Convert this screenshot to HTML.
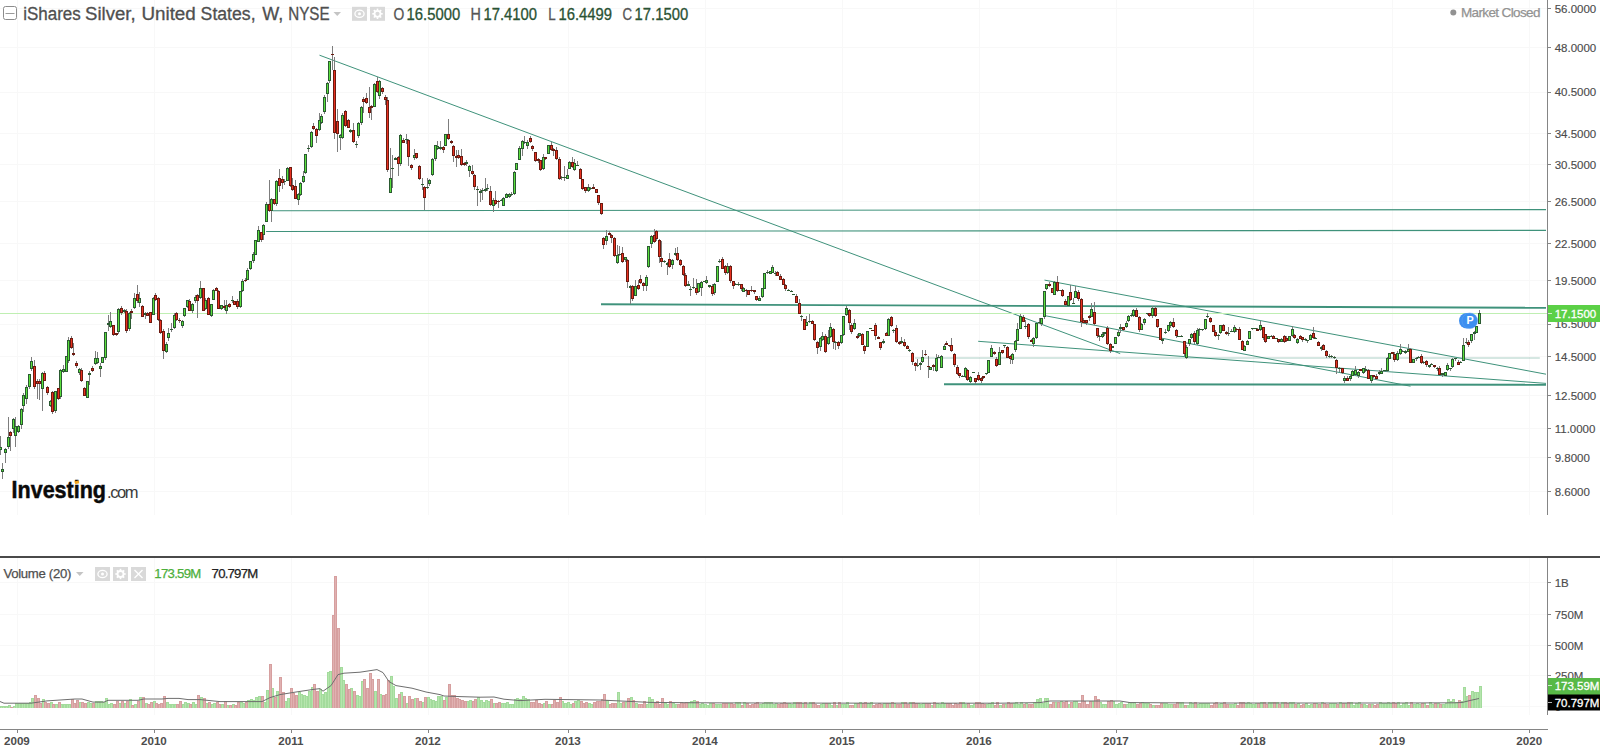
<!DOCTYPE html>
<html lang="en"><head><meta charset="utf-8"><title>iShares Silver, United States, W, NYSE</title>
<style>
html,body{margin:0;padding:0;background:#fff;width:1600px;height:749px;overflow:hidden;font-family:"Liberation Sans",sans-serif}
svg text{font-kerning:normal}
</style></head><body>
<svg width="1600" height="749" viewBox="0 0 1600 749" style="position:absolute;left:0;top:0" shape-rendering="auto">
<rect x="0" y="0" width="1600" height="749" fill="#ffffff"/>
<g stroke="#f8f8f8" stroke-width="1" shape-rendering="crispEdges">
<line x1="17.5" y1="0" x2="17.5" y2="515"/>
<line x1="17.5" y1="558" x2="17.5" y2="715"/>
<line x1="154.5" y1="0" x2="154.5" y2="515"/>
<line x1="154.5" y1="558" x2="154.5" y2="715"/>
<line x1="291.5" y1="0" x2="291.5" y2="515"/>
<line x1="291.5" y1="558" x2="291.5" y2="715"/>
<line x1="428.5" y1="0" x2="428.5" y2="515"/>
<line x1="428.5" y1="558" x2="428.5" y2="715"/>
<line x1="568.5" y1="0" x2="568.5" y2="515"/>
<line x1="568.5" y1="558" x2="568.5" y2="715"/>
<line x1="705.5" y1="0" x2="705.5" y2="515"/>
<line x1="705.5" y1="558" x2="705.5" y2="715"/>
<line x1="842.5" y1="0" x2="842.5" y2="515"/>
<line x1="842.5" y1="558" x2="842.5" y2="715"/>
<line x1="979.5" y1="0" x2="979.5" y2="515"/>
<line x1="979.5" y1="558" x2="979.5" y2="715"/>
<line x1="1116.5" y1="0" x2="1116.5" y2="515"/>
<line x1="1116.5" y1="558" x2="1116.5" y2="715"/>
<line x1="1253.5" y1="0" x2="1253.5" y2="515"/>
<line x1="1253.5" y1="558" x2="1253.5" y2="715"/>
<line x1="1392.5" y1="0" x2="1392.5" y2="515"/>
<line x1="1392.5" y1="558" x2="1392.5" y2="715"/>
<line x1="1529.5" y1="0" x2="1529.5" y2="515"/>
<line x1="1529.5" y1="558" x2="1529.5" y2="715"/>
<line x1="0" y1="8.5" x2="1547" y2="8.5"/>
<line x1="0" y1="47.5" x2="1547" y2="47.5"/>
<line x1="0" y1="92.5" x2="1547" y2="92.5"/>
<line x1="0" y1="133.5" x2="1547" y2="133.5"/>
<line x1="0" y1="164.5" x2="1547" y2="164.5"/>
<line x1="0" y1="201.5" x2="1547" y2="201.5"/>
<line x1="0" y1="243.5" x2="1547" y2="243.5"/>
<line x1="0" y1="280.5" x2="1547" y2="280.5"/>
<line x1="0" y1="324.5" x2="1547" y2="324.5"/>
<line x1="0" y1="356.5" x2="1547" y2="356.5"/>
<line x1="0" y1="395.5" x2="1547" y2="395.5"/>
<line x1="0" y1="428.5" x2="1547" y2="428.5"/>
<line x1="0" y1="457.5" x2="1547" y2="457.5"/>
<line x1="0" y1="491.5" x2="1547" y2="491.5"/>
<line x1="0" y1="582.5" x2="1547" y2="582.5"/>
<line x1="0" y1="614.5" x2="1547" y2="614.5"/>
<line x1="0" y1="645.5" x2="1547" y2="645.5"/>
<line x1="0" y1="675.5" x2="1547" y2="675.5"/>
<line x1="0" y1="706.5" x2="1547" y2="706.5"/>
</g>
<g id="vol">
<g shape-rendering="crispEdges">
<path d="M0 705.5h3V708h-3zM2 706.0h3V708h-3zM5 705.5h3V708h-3zM8 705.0h3V708h-3zM13 705.5h3V708h-3zM15 703.0h3V708h-3zM18 702.5h3V708h-3zM21 703.0h3V708h-3zM23 702.5h3V708h-3zM26 703.0h3V708h-3zM29 702.0h3V708h-3zM31 697.8h3V708h-3zM42 698.8h3V708h-3zM50 702.0h3V708h-3zM55 704.4h3V708h-3zM60 704.3h3V708h-3zM63 703.7h3V708h-3zM66 703.5h3V708h-3zM68 704.4h3V708h-3zM79 702.4h3V708h-3zM87 701.9h3V708h-3zM89 702.7h3V708h-3zM95 700.5h3V708h-3zM97 700.5h3V708h-3zM100 701.1h3V708h-3zM102 701.7h3V708h-3zM105 698.4h3V708h-3zM108 703.6h3V708h-3zM110 703.3h3V708h-3zM118 702.9h3V708h-3zM124 703.0h3V708h-3zM129 698.8h3V708h-3zM134 703.7h3V708h-3zM139 696.5h3V708h-3zM145 702.9h3V708h-3zM153 701.4h3V708h-3zM166 701.5h3V708h-3zM168 704.0h3V708h-3zM171 703.5h3V708h-3zM174 704.1h3V708h-3zM182 703.8h3V708h-3zM184 702.3h3V708h-3zM187 702.7h3V708h-3zM192 701.6h3V708h-3zM195 704.0h3V708h-3zM200 697.0h3V708h-3zM205 703.0h3V708h-3zM211 704.0h3V708h-3zM213 703.0h3V708h-3zM221 704.0h3V708h-3zM226 705.0h3V708h-3zM232 704.0h3V708h-3zM240 702.0h3V708h-3zM242 703.0h3V708h-3zM247 700.0h3V708h-3zM250 699.0h3V708h-3zM253 700.0h3V708h-3zM255 697.0h3V708h-3zM258 696.0h3V708h-3zM263 701.5h3V708h-3zM266 690.0h3V708h-3zM271 688.0h3V708h-3zM276 691.0h3V708h-3zM284 701.0h3V708h-3zM287 698.0h3V708h-3zM298 692.0h3V708h-3zM300 694.0h3V708h-3zM303 695.0h3V708h-3zM305 696.0h3V708h-3zM308 691.0h3V708h-3zM311 687.0h3V708h-3zM319 689.0h3V708h-3zM321 694.0h3V708h-3zM324 692.0h3V708h-3zM327 672.0h3V708h-3zM329 671.0h3V708h-3zM340 667.0h3V708h-3zM342 680.0h3V708h-3zM350 688.0h3V708h-3zM356 695.0h3V708h-3zM358 696.0h3V708h-3zM361 681.0h3V708h-3zM374 691.0h3V708h-3zM379 694.0h3V708h-3zM390 676.0h3V708h-3zM392 686.0h3V708h-3zM395 698.0h3V708h-3zM400 692.0h3V708h-3zM406 702.9h3V708h-3zM414 698.0h3V708h-3zM422 702.0h3V708h-3zM427 697.0h3V708h-3zM429 699.0h3V708h-3zM432 700.0h3V708h-3zM435 700.8h3V708h-3zM437 696.0h3V708h-3zM440 696.0h3V708h-3zM445 697.0h3V708h-3zM466 701.0h3V708h-3zM469 699.5h3V708h-3zM477 697.0h3V708h-3zM480 700.0h3V708h-3zM482 702.0h3V708h-3zM485 700.0h3V708h-3zM487 701.0h3V708h-3zM493 703.0h3V708h-3zM501 703.0h3V708h-3zM503 703.0h3V708h-3zM506 702.0h3V708h-3zM509 704.0h3V708h-3zM511 704.0h3V708h-3zM514 699.0h3V708h-3zM516 698.0h3V708h-3zM519 699.0h3V708h-3zM522 695.5h3V708h-3zM524 698.0h3V708h-3zM527 699.0h3V708h-3zM543 703.1h3V708h-3zM548 703.6h3V708h-3zM561 700.5h3V708h-3zM564 703.0h3V708h-3zM567 701.5h3V708h-3zM569 703.6h3V708h-3zM574 700.9h3V708h-3zM577 700.4h3V708h-3zM588 703.1h3V708h-3zM590 703.9h3V708h-3zM606 700.0h3V708h-3zM617 692.4h3V708h-3zM619 702.6h3V708h-3zM625 702.3h3V708h-3zM630 697.0h3V708h-3zM635 702.5h3V708h-3zM646 704.3h3V708h-3zM648 697.0h3V708h-3zM651 699.0h3V708h-3zM664 702.5h3V708h-3zM667 704.4h3V708h-3zM672 703.4h3V708h-3zM675 703.9h3V708h-3zM688 701.6h3V708h-3zM690 700.9h3V708h-3zM693 700.2h3V708h-3zM698 703.6h3V708h-3zM701 703.4h3V708h-3zM704 704.4h3V708h-3zM706 705.0h3V708h-3zM709 703.4h3V708h-3zM714 704.4h3V708h-3zM717 704.1h3V708h-3zM719 703.9h3V708h-3zM727 703.0h3V708h-3zM735 702.4h3V708h-3zM738 702.0h3V708h-3zM743 701.9h3V708h-3zM759 703.8h3V708h-3zM762 703.1h3V708h-3zM764 702.1h3V708h-3zM767 702.4h3V708h-3zM770 701.9h3V708h-3zM772 703.5h3V708h-3zM775 702.9h3V708h-3zM788 702.6h3V708h-3zM791 704.3h3V708h-3zM793 702.0h3V708h-3zM801 703.2h3V708h-3zM806 703.9h3V708h-3zM809 702.0h3V708h-3zM820 703.5h3V708h-3zM822 703.2h3V708h-3zM828 703.4h3V708h-3zM830 704.9h3V708h-3zM835 704.8h3V708h-3zM841 704.4h3V708h-3zM843 703.9h3V708h-3zM846 702.4h3V708h-3zM854 703.3h3V708h-3zM859 702.2h3V708h-3zM867 703.4h3V708h-3zM870 701.9h3V708h-3zM883 702.6h3V708h-3zM888 703.3h3V708h-3zM893 703.2h3V708h-3zM901 702.2h3V708h-3zM909 702.2h3V708h-3zM917 703.1h3V708h-3zM920 704.3h3V708h-3zM922 703.2h3V708h-3zM930 704.9h3V708h-3zM936 703.3h3V708h-3zM938 703.7h3V708h-3zM941 702.4h3V708h-3zM944 703.1h3V708h-3zM962 702.0h3V708h-3zM965 704.1h3V708h-3zM970 704.6h3V708h-3zM973 703.6h3V708h-3zM986 704.4h3V708h-3zM988 703.0h3V708h-3zM991 701.9h3V708h-3zM999 704.9h3V708h-3zM1004 703.6h3V708h-3zM1012 703.1h3V708h-3zM1015 702.0h3V708h-3zM1017 704.1h3V708h-3zM1020 701.6h3V708h-3zM1025 702.5h3V708h-3zM1033 702.4h3V708h-3zM1036 699.0h3V708h-3zM1039 698.0h3V708h-3zM1041 702.8h3V708h-3zM1044 698.0h3V708h-3zM1046 698.0h3V708h-3zM1054 701.9h3V708h-3zM1060 701.1h3V708h-3zM1068 703.6h3V708h-3zM1073 701.3h3V708h-3zM1075 700.9h3V708h-3zM1091 700.9h3V708h-3zM1099 701.6h3V708h-3zM1102 703.5h3V708h-3zM1104 704.1h3V708h-3zM1112 701.3h3V708h-3zM1115 704.0h3V708h-3zM1118 702.9h3V708h-3zM1120 701.8h3V708h-3zM1126 703.7h3V708h-3zM1128 701.8h3V708h-3zM1131 701.9h3V708h-3zM1133 701.7h3V708h-3zM1141 702.4h3V708h-3zM1144 703.2h3V708h-3zM1147 702.6h3V708h-3zM1152 704.6h3V708h-3zM1162 703.2h3V708h-3zM1165 703.0h3V708h-3zM1168 704.3h3V708h-3zM1170 704.2h3V708h-3zM1178 701.6h3V708h-3zM1181 701.8h3V708h-3zM1186 704.6h3V708h-3zM1189 701.8h3V708h-3zM1191 703.3h3V708h-3zM1197 703.8h3V708h-3zM1199 703.3h3V708h-3zM1202 703.2h3V708h-3zM1205 703.4h3V708h-3zM1207 702.9h3V708h-3zM1218 704.2h3V708h-3zM1220 703.3h3V708h-3zM1228 704.2h3V708h-3zM1231 704.3h3V708h-3zM1234 703.2h3V708h-3zM1244 702.5h3V708h-3zM1247 702.0h3V708h-3zM1249 702.8h3V708h-3zM1252 703.5h3V708h-3zM1255 702.9h3V708h-3zM1260 701.7h3V708h-3zM1268 701.9h3V708h-3zM1271 702.4h3V708h-3zM1276 702.2h3V708h-3zM1281 701.9h3V708h-3zM1289 702.3h3V708h-3zM1292 702.4h3V708h-3zM1297 702.5h3V708h-3zM1305 703.3h3V708h-3zM1307 704.8h3V708h-3zM1310 703.7h3V708h-3zM1315 702.8h3V708h-3zM1321 701.8h3V708h-3zM1329 702.7h3V708h-3zM1331 703.0h3V708h-3zM1334 703.1h3V708h-3zM1339 701.6h3V708h-3zM1344 702.6h3V708h-3zM1350 701.7h3V708h-3zM1352 704.7h3V708h-3zM1355 702.8h3V708h-3zM1358 702.4h3V708h-3zM1363 703.5h3V708h-3zM1365 704.6h3V708h-3zM1371 703.6h3V708h-3zM1379 701.9h3V708h-3zM1381 703.0h3V708h-3zM1384 703.2h3V708h-3zM1387 701.7h3V708h-3zM1389 703.0h3V708h-3zM1397 702.2h3V708h-3zM1400 704.6h3V708h-3zM1402 702.9h3V708h-3zM1405 702.4h3V708h-3zM1408 704.7h3V708h-3zM1413 704.3h3V708h-3zM1416 703.3h3V708h-3zM1418 704.3h3V708h-3zM1423 702.8h3V708h-3zM1429 701.8h3V708h-3zM1431 703.5h3V708h-3zM1437 702.9h3V708h-3zM1442 703.9h3V708h-3zM1445 702.7h3V708h-3zM1447 699.0h3V708h-3zM1450 701.0h3V708h-3zM1452 699.0h3V708h-3zM1455 702.0h3V708h-3zM1460 701.0h3V708h-3zM1463 687.3h3V708h-3zM1466 696.4h3V708h-3zM1471 691.3h3V708h-3zM1474 692.4h3V708h-3zM1476 692.4h3V708h-3zM1479 686.4h3V708h-3z" fill="#a3db9c"/>
<path d="M10 706.5h3V708h-3zM34 694.6h3V708h-3zM37 697.5h3V708h-3zM39 702.5h3V708h-3zM44 701.5h3V708h-3zM47 702.5h3V708h-3zM52 703.9h3V708h-3zM58 702.4h3V708h-3zM71 698.8h3V708h-3zM73 702.7h3V708h-3zM76 700.0h3V708h-3zM81 701.9h3V708h-3zM84 702.5h3V708h-3zM92 703.4h3V708h-3zM113 704.2h3V708h-3zM116 701.4h3V708h-3zM121 701.1h3V708h-3zM126 700.7h3V708h-3zM131 704.5h3V708h-3zM137 700.9h3V708h-3zM142 696.8h3V708h-3zM147 704.2h3V708h-3zM150 702.0h3V708h-3zM155 703.4h3V708h-3zM158 704.2h3V708h-3zM160 703.2h3V708h-3zM163 695.9h3V708h-3zM176 704.3h3V708h-3zM179 701.3h3V708h-3zM189 703.7h3V708h-3zM197 695.2h3V708h-3zM203 698.0h3V708h-3zM208 701.9h3V708h-3zM216 701.8h3V708h-3zM218 704.0h3V708h-3zM224 701.4h3V708h-3zM229 705.0h3V708h-3zM234 705.0h3V708h-3zM237 702.1h3V708h-3zM245 701.7h3V708h-3zM261 696.0h3V708h-3zM269 664.0h3V708h-3zM274 697.0h3V708h-3zM279 677.0h3V708h-3zM282 692.0h3V708h-3zM290 688.0h3V708h-3zM292 693.0h3V708h-3zM295 695.0h3V708h-3zM313 684.0h3V708h-3zM316 691.0h3V708h-3zM332 614.5h3V708h-3zM334 575.5h3V708h-3zM337 627.5h3V708h-3zM345 684.0h3V708h-3zM348 689.0h3V708h-3zM353 691.0h3V708h-3zM363 679.0h3V708h-3zM366 688.0h3V708h-3zM369 673.0h3V708h-3zM371 679.0h3V708h-3zM377 679.0h3V708h-3zM382 695.0h3V708h-3zM385 694.0h3V708h-3zM387 680.0h3V708h-3zM398 694.0h3V708h-3zM403 696.0h3V708h-3zM408 696.0h3V708h-3zM411 699.0h3V708h-3zM416 698.0h3V708h-3zM419 700.5h3V708h-3zM424 697.0h3V708h-3zM443 700.0h3V708h-3zM448 684.0h3V708h-3zM451 695.0h3V708h-3zM453 695.0h3V708h-3zM456 698.0h3V708h-3zM458 699.0h3V708h-3zM461 700.0h3V708h-3zM464 701.3h3V708h-3zM472 701.0h3V708h-3zM474 699.0h3V708h-3zM490 699.0h3V708h-3zM495 703.0h3V708h-3zM498 702.0h3V708h-3zM530 702.3h3V708h-3zM532 701.7h3V708h-3zM535 700.4h3V708h-3zM538 703.3h3V708h-3zM540 704.4h3V708h-3zM545 701.4h3V708h-3zM551 703.7h3V708h-3zM553 700.4h3V708h-3zM556 701.5h3V708h-3zM559 697.0h3V708h-3zM572 702.6h3V708h-3zM580 700.5h3V708h-3zM582 702.8h3V708h-3zM585 701.9h3V708h-3zM593 702.3h3V708h-3zM596 700.7h3V708h-3zM598 700.7h3V708h-3zM601 699.0h3V708h-3zM603 694.0h3V708h-3zM609 703.7h3V708h-3zM611 702.5h3V708h-3zM614 703.3h3V708h-3zM622 701.7h3V708h-3zM627 698.0h3V708h-3zM632 700.1h3V708h-3zM638 704.2h3V708h-3zM640 704.4h3V708h-3zM643 700.6h3V708h-3zM654 703.1h3V708h-3zM656 700.9h3V708h-3zM659 704.4h3V708h-3zM661 698.0h3V708h-3zM669 700.8h3V708h-3zM677 704.3h3V708h-3zM680 701.7h3V708h-3zM683 702.5h3V708h-3zM685 701.7h3V708h-3zM696 701.4h3V708h-3zM712 702.6h3V708h-3zM722 702.7h3V708h-3zM725 703.3h3V708h-3zM730 702.5h3V708h-3zM733 703.7h3V708h-3zM741 704.7h3V708h-3zM746 702.6h3V708h-3zM748 704.6h3V708h-3zM751 703.5h3V708h-3zM754 702.9h3V708h-3zM756 702.0h3V708h-3zM777 704.3h3V708h-3zM780 702.6h3V708h-3zM783 702.3h3V708h-3zM785 702.9h3V708h-3zM796 701.8h3V708h-3zM799 701.8h3V708h-3zM804 702.4h3V708h-3zM812 702.2h3V708h-3zM814 703.8h3V708h-3zM817 704.7h3V708h-3zM825 702.5h3V708h-3zM833 702.3h3V708h-3zM838 702.4h3V708h-3zM849 704.5h3V708h-3zM851 704.5h3V708h-3zM857 702.6h3V708h-3zM862 702.7h3V708h-3zM864 701.9h3V708h-3zM872 704.7h3V708h-3zM875 704.3h3V708h-3zM878 703.3h3V708h-3zM880 704.0h3V708h-3zM886 702.9h3V708h-3zM891 702.2h3V708h-3zM896 704.0h3V708h-3zM899 703.7h3V708h-3zM904 702.0h3V708h-3zM907 704.3h3V708h-3zM912 701.8h3V708h-3zM915 703.3h3V708h-3zM925 703.3h3V708h-3zM928 703.0h3V708h-3zM933 701.8h3V708h-3zM946 703.4h3V708h-3zM949 702.7h3V708h-3zM951 704.8h3V708h-3zM954 703.2h3V708h-3zM957 703.6h3V708h-3zM959 701.8h3V708h-3zM967 703.4h3V708h-3zM975 702.3h3V708h-3zM978 702.0h3V708h-3zM981 703.4h3V708h-3zM983 704.0h3V708h-3zM994 704.6h3V708h-3zM996 702.4h3V708h-3zM1002 703.7h3V708h-3zM1007 701.8h3V708h-3zM1010 703.2h3V708h-3zM1023 704.0h3V708h-3zM1028 703.5h3V708h-3zM1031 703.7h3V708h-3zM1049 703.7h3V708h-3zM1052 702.0h3V708h-3zM1057 702.4h3V708h-3zM1062 702.1h3V708h-3zM1065 701.1h3V708h-3zM1070 701.5h3V708h-3zM1078 703.2h3V708h-3zM1081 695.0h3V708h-3zM1083 700.8h3V708h-3zM1086 703.6h3V708h-3zM1089 700.5h3V708h-3zM1094 695.5h3V708h-3zM1097 699.0h3V708h-3zM1107 701.2h3V708h-3zM1110 700.0h3V708h-3zM1123 704.4h3V708h-3zM1136 704.4h3V708h-3zM1139 703.2h3V708h-3zM1149 704.2h3V708h-3zM1155 704.5h3V708h-3zM1157 704.7h3V708h-3zM1160 703.0h3V708h-3zM1173 704.1h3V708h-3zM1176 702.1h3V708h-3zM1184 704.5h3V708h-3zM1194 702.4h3V708h-3zM1210 704.8h3V708h-3zM1213 702.6h3V708h-3zM1215 702.1h3V708h-3zM1223 702.4h3V708h-3zM1226 703.5h3V708h-3zM1236 704.8h3V708h-3zM1239 701.9h3V708h-3zM1242 702.2h3V708h-3zM1257 703.2h3V708h-3zM1263 702.2h3V708h-3zM1265 704.0h3V708h-3zM1273 702.3h3V708h-3zM1278 703.5h3V708h-3zM1284 702.0h3V708h-3zM1286 702.6h3V708h-3zM1294 703.5h3V708h-3zM1300 704.6h3V708h-3zM1302 703.7h3V708h-3zM1313 702.8h3V708h-3zM1318 704.1h3V708h-3zM1323 702.7h3V708h-3zM1326 703.7h3V708h-3zM1336 703.6h3V708h-3zM1342 702.7h3V708h-3zM1347 702.4h3V708h-3zM1360 704.0h3V708h-3zM1368 704.2h3V708h-3zM1373 704.5h3V708h-3zM1376 704.0h3V708h-3zM1392 701.6h3V708h-3zM1394 702.8h3V708h-3zM1410 701.8h3V708h-3zM1421 703.2h3V708h-3zM1426 704.6h3V708h-3zM1434 703.1h3V708h-3zM1439 703.6h3V708h-3zM1458 700.0h3V708h-3zM1468 695.3h3V708h-3z" fill="#d69f9f"/>
<path d="M1 706.5h1V708h-1zM3 707.0h1V708h-1zM6 706.5h1V708h-1zM9 706.0h1V708h-1zM14 706.5h1V708h-1zM16 704.0h1V708h-1zM19 703.5h1V708h-1zM22 704.0h1V708h-1zM24 703.5h1V708h-1zM27 704.0h1V708h-1zM30 703.0h1V708h-1zM32 698.8h1V708h-1zM43 699.8h1V708h-1zM51 703.0h1V708h-1zM56 705.4h1V708h-1zM61 705.3h1V708h-1zM64 704.7h1V708h-1zM67 704.5h1V708h-1zM69 705.4h1V708h-1zM80 703.4h1V708h-1zM88 702.9h1V708h-1zM90 703.7h1V708h-1zM96 701.5h1V708h-1zM98 701.5h1V708h-1zM101 702.1h1V708h-1zM103 702.7h1V708h-1zM106 699.4h1V708h-1zM109 704.6h1V708h-1zM111 704.3h1V708h-1zM119 703.9h1V708h-1zM125 704.0h1V708h-1zM130 699.8h1V708h-1zM135 704.7h1V708h-1zM140 697.5h1V708h-1zM146 703.9h1V708h-1zM154 702.4h1V708h-1zM167 702.5h1V708h-1zM169 705.0h1V708h-1zM172 704.5h1V708h-1zM175 705.1h1V708h-1zM183 704.8h1V708h-1zM185 703.3h1V708h-1zM188 703.7h1V708h-1zM193 702.6h1V708h-1zM196 705.0h1V708h-1zM201 698.0h1V708h-1zM206 704.0h1V708h-1zM212 705.0h1V708h-1zM214 704.0h1V708h-1zM222 705.0h1V708h-1zM227 706.0h1V708h-1zM233 705.0h1V708h-1zM241 703.0h1V708h-1zM243 704.0h1V708h-1zM248 701.0h1V708h-1zM251 700.0h1V708h-1zM254 701.0h1V708h-1zM256 698.0h1V708h-1zM259 697.0h1V708h-1zM264 702.5h1V708h-1zM267 691.0h1V708h-1zM272 689.0h1V708h-1zM277 692.0h1V708h-1zM285 702.0h1V708h-1zM288 699.0h1V708h-1zM299 693.0h1V708h-1zM301 695.0h1V708h-1zM304 696.0h1V708h-1zM306 697.0h1V708h-1zM309 692.0h1V708h-1zM312 688.0h1V708h-1zM320 690.0h1V708h-1zM322 695.0h1V708h-1zM325 693.0h1V708h-1zM328 673.0h1V708h-1zM330 672.0h1V708h-1zM341 668.0h1V708h-1zM343 681.0h1V708h-1zM351 689.0h1V708h-1zM357 696.0h1V708h-1zM359 697.0h1V708h-1zM362 682.0h1V708h-1zM375 692.0h1V708h-1zM380 695.0h1V708h-1zM391 677.0h1V708h-1zM393 687.0h1V708h-1zM396 699.0h1V708h-1zM401 693.0h1V708h-1zM407 703.9h1V708h-1zM415 699.0h1V708h-1zM423 703.0h1V708h-1zM428 698.0h1V708h-1zM430 700.0h1V708h-1zM433 701.0h1V708h-1zM436 701.8h1V708h-1zM438 697.0h1V708h-1zM441 697.0h1V708h-1zM446 698.0h1V708h-1zM467 702.0h1V708h-1zM470 700.5h1V708h-1zM478 698.0h1V708h-1zM481 701.0h1V708h-1zM483 703.0h1V708h-1zM486 701.0h1V708h-1zM488 702.0h1V708h-1zM494 704.0h1V708h-1zM502 704.0h1V708h-1zM504 704.0h1V708h-1zM507 703.0h1V708h-1zM510 705.0h1V708h-1zM512 705.0h1V708h-1zM515 700.0h1V708h-1zM517 699.0h1V708h-1zM520 700.0h1V708h-1zM523 696.5h1V708h-1zM525 699.0h1V708h-1zM528 700.0h1V708h-1zM544 704.1h1V708h-1zM549 704.6h1V708h-1zM562 701.5h1V708h-1zM565 704.0h1V708h-1zM568 702.5h1V708h-1zM570 704.6h1V708h-1zM575 701.9h1V708h-1zM578 701.4h1V708h-1zM589 704.1h1V708h-1zM591 704.9h1V708h-1zM607 701.0h1V708h-1zM618 693.4h1V708h-1zM620 703.6h1V708h-1zM626 703.3h1V708h-1zM631 698.0h1V708h-1zM636 703.5h1V708h-1zM647 705.3h1V708h-1zM649 698.0h1V708h-1zM652 700.0h1V708h-1zM665 703.5h1V708h-1zM668 705.4h1V708h-1zM673 704.4h1V708h-1zM676 704.9h1V708h-1zM689 702.6h1V708h-1zM691 701.9h1V708h-1zM694 701.2h1V708h-1zM699 704.6h1V708h-1zM702 704.4h1V708h-1zM705 705.4h1V708h-1zM707 706.0h1V708h-1zM710 704.4h1V708h-1zM715 705.4h1V708h-1zM718 705.1h1V708h-1zM720 704.9h1V708h-1zM728 704.0h1V708h-1zM736 703.4h1V708h-1zM739 703.0h1V708h-1zM744 702.9h1V708h-1zM760 704.8h1V708h-1zM763 704.1h1V708h-1zM765 703.1h1V708h-1zM768 703.4h1V708h-1zM771 702.9h1V708h-1zM773 704.5h1V708h-1zM776 703.9h1V708h-1zM789 703.6h1V708h-1zM792 705.3h1V708h-1zM794 703.0h1V708h-1zM802 704.2h1V708h-1zM807 704.9h1V708h-1zM810 703.0h1V708h-1zM821 704.5h1V708h-1zM823 704.2h1V708h-1zM829 704.4h1V708h-1zM831 705.9h1V708h-1zM836 705.8h1V708h-1zM842 705.4h1V708h-1zM844 704.9h1V708h-1zM847 703.4h1V708h-1zM855 704.3h1V708h-1zM860 703.2h1V708h-1zM868 704.4h1V708h-1zM871 702.9h1V708h-1zM884 703.6h1V708h-1zM889 704.3h1V708h-1zM894 704.2h1V708h-1zM902 703.2h1V708h-1zM910 703.2h1V708h-1zM918 704.1h1V708h-1zM921 705.3h1V708h-1zM923 704.2h1V708h-1zM931 705.9h1V708h-1zM937 704.3h1V708h-1zM939 704.7h1V708h-1zM942 703.4h1V708h-1zM945 704.1h1V708h-1zM963 703.0h1V708h-1zM966 705.1h1V708h-1zM971 705.6h1V708h-1zM974 704.6h1V708h-1zM987 705.4h1V708h-1zM989 704.0h1V708h-1zM992 702.9h1V708h-1zM1000 705.9h1V708h-1zM1005 704.6h1V708h-1zM1013 704.1h1V708h-1zM1016 703.0h1V708h-1zM1018 705.1h1V708h-1zM1021 702.6h1V708h-1zM1026 703.5h1V708h-1zM1034 703.4h1V708h-1zM1037 700.0h1V708h-1zM1040 699.0h1V708h-1zM1042 703.8h1V708h-1zM1045 699.0h1V708h-1zM1047 699.0h1V708h-1zM1055 702.9h1V708h-1zM1061 702.1h1V708h-1zM1069 704.6h1V708h-1zM1074 702.3h1V708h-1zM1076 701.9h1V708h-1zM1092 701.9h1V708h-1zM1100 702.6h1V708h-1zM1103 704.5h1V708h-1zM1105 705.1h1V708h-1zM1113 702.3h1V708h-1zM1116 705.0h1V708h-1zM1119 703.9h1V708h-1zM1121 702.8h1V708h-1zM1127 704.7h1V708h-1zM1129 702.8h1V708h-1zM1132 702.9h1V708h-1zM1134 702.7h1V708h-1zM1142 703.4h1V708h-1zM1145 704.2h1V708h-1zM1148 703.6h1V708h-1zM1153 705.6h1V708h-1zM1163 704.2h1V708h-1zM1166 704.0h1V708h-1zM1169 705.3h1V708h-1zM1171 705.2h1V708h-1zM1179 702.6h1V708h-1zM1182 702.8h1V708h-1zM1187 705.6h1V708h-1zM1190 702.8h1V708h-1zM1192 704.3h1V708h-1zM1198 704.8h1V708h-1zM1200 704.3h1V708h-1zM1203 704.2h1V708h-1zM1206 704.4h1V708h-1zM1208 703.9h1V708h-1zM1219 705.2h1V708h-1zM1221 704.3h1V708h-1zM1229 705.2h1V708h-1zM1232 705.3h1V708h-1zM1235 704.2h1V708h-1zM1245 703.5h1V708h-1zM1248 703.0h1V708h-1zM1250 703.8h1V708h-1zM1253 704.5h1V708h-1zM1256 703.9h1V708h-1zM1261 702.7h1V708h-1zM1269 702.9h1V708h-1zM1272 703.4h1V708h-1zM1277 703.2h1V708h-1zM1282 702.9h1V708h-1zM1290 703.3h1V708h-1zM1293 703.4h1V708h-1zM1298 703.5h1V708h-1zM1306 704.3h1V708h-1zM1308 705.8h1V708h-1zM1311 704.7h1V708h-1zM1316 703.8h1V708h-1zM1322 702.8h1V708h-1zM1330 703.7h1V708h-1zM1332 704.0h1V708h-1zM1335 704.1h1V708h-1zM1340 702.6h1V708h-1zM1345 703.6h1V708h-1zM1351 702.7h1V708h-1zM1353 705.7h1V708h-1zM1356 703.8h1V708h-1zM1359 703.4h1V708h-1zM1364 704.5h1V708h-1zM1366 705.6h1V708h-1zM1372 704.6h1V708h-1zM1380 702.9h1V708h-1zM1382 704.0h1V708h-1zM1385 704.2h1V708h-1zM1388 702.7h1V708h-1zM1390 704.0h1V708h-1zM1398 703.2h1V708h-1zM1401 705.6h1V708h-1zM1403 703.9h1V708h-1zM1406 703.4h1V708h-1zM1409 705.7h1V708h-1zM1414 705.3h1V708h-1zM1417 704.3h1V708h-1zM1419 705.3h1V708h-1zM1424 703.8h1V708h-1zM1430 702.8h1V708h-1zM1432 704.5h1V708h-1zM1438 703.9h1V708h-1zM1443 704.9h1V708h-1zM1446 703.7h1V708h-1zM1448 700.0h1V708h-1zM1451 702.0h1V708h-1zM1453 700.0h1V708h-1zM1456 703.0h1V708h-1zM1461 702.0h1V708h-1zM1464 688.3h1V708h-1zM1467 697.4h1V708h-1zM1472 692.3h1V708h-1zM1475 693.4h1V708h-1zM1477 693.4h1V708h-1zM1480 687.4h1V708h-1z" fill="#b5e5ad"/>
<path d="M35 695.6h1V708h-1zM38 698.5h1V708h-1zM40 703.5h1V708h-1zM45 702.5h1V708h-1zM48 703.5h1V708h-1zM53 704.9h1V708h-1zM59 703.4h1V708h-1zM72 699.8h1V708h-1zM74 703.7h1V708h-1zM77 701.0h1V708h-1zM82 702.9h1V708h-1zM85 703.5h1V708h-1zM93 704.4h1V708h-1zM114 705.2h1V708h-1zM117 702.4h1V708h-1zM122 702.1h1V708h-1zM127 701.7h1V708h-1zM132 705.5h1V708h-1zM138 701.9h1V708h-1zM143 697.8h1V708h-1zM148 705.2h1V708h-1zM151 703.0h1V708h-1zM156 704.4h1V708h-1zM159 705.2h1V708h-1zM161 704.2h1V708h-1zM164 696.9h1V708h-1zM177 705.3h1V708h-1zM180 702.3h1V708h-1zM190 704.7h1V708h-1zM198 696.2h1V708h-1zM204 699.0h1V708h-1zM209 702.9h1V708h-1zM217 702.8h1V708h-1zM219 705.0h1V708h-1zM225 702.4h1V708h-1zM230 706.0h1V708h-1zM235 706.0h1V708h-1zM238 703.1h1V708h-1zM246 702.7h1V708h-1zM262 697.0h1V708h-1zM270 665.0h1V708h-1zM275 698.0h1V708h-1zM280 678.0h1V708h-1zM283 693.0h1V708h-1zM291 689.0h1V708h-1zM293 694.0h1V708h-1zM296 696.0h1V708h-1zM314 685.0h1V708h-1zM317 692.0h1V708h-1zM333 615.5h1V708h-1zM335 576.5h1V708h-1zM338 628.5h1V708h-1zM346 685.0h1V708h-1zM349 690.0h1V708h-1zM354 692.0h1V708h-1zM364 680.0h1V708h-1zM367 689.0h1V708h-1zM370 674.0h1V708h-1zM372 680.0h1V708h-1zM378 680.0h1V708h-1zM383 696.0h1V708h-1zM386 695.0h1V708h-1zM388 681.0h1V708h-1zM399 695.0h1V708h-1zM404 697.0h1V708h-1zM409 697.0h1V708h-1zM412 700.0h1V708h-1zM417 699.0h1V708h-1zM420 701.5h1V708h-1zM425 698.0h1V708h-1zM444 701.0h1V708h-1zM449 685.0h1V708h-1zM452 696.0h1V708h-1zM454 696.0h1V708h-1zM457 699.0h1V708h-1zM459 700.0h1V708h-1zM462 701.0h1V708h-1zM465 702.3h1V708h-1zM473 702.0h1V708h-1zM475 700.0h1V708h-1zM491 700.0h1V708h-1zM496 704.0h1V708h-1zM499 703.0h1V708h-1zM531 703.3h1V708h-1zM533 702.7h1V708h-1zM536 701.4h1V708h-1zM539 704.3h1V708h-1zM541 705.4h1V708h-1zM546 702.4h1V708h-1zM552 704.7h1V708h-1zM554 701.4h1V708h-1zM557 702.5h1V708h-1zM560 698.0h1V708h-1zM573 703.6h1V708h-1zM581 701.5h1V708h-1zM583 703.8h1V708h-1zM586 702.9h1V708h-1zM594 703.3h1V708h-1zM597 701.7h1V708h-1zM599 701.7h1V708h-1zM602 700.0h1V708h-1zM604 695.0h1V708h-1zM610 704.7h1V708h-1zM612 703.5h1V708h-1zM615 704.3h1V708h-1zM623 702.7h1V708h-1zM628 699.0h1V708h-1zM633 701.1h1V708h-1zM639 705.2h1V708h-1zM641 705.4h1V708h-1zM644 701.6h1V708h-1zM655 704.1h1V708h-1zM657 701.9h1V708h-1zM660 705.4h1V708h-1zM662 699.0h1V708h-1zM670 701.8h1V708h-1zM678 705.3h1V708h-1zM681 702.7h1V708h-1zM684 703.5h1V708h-1zM686 702.7h1V708h-1zM697 702.4h1V708h-1zM713 703.6h1V708h-1zM723 703.7h1V708h-1zM726 704.3h1V708h-1zM731 703.5h1V708h-1zM734 704.7h1V708h-1zM742 705.7h1V708h-1zM747 703.6h1V708h-1zM749 705.6h1V708h-1zM752 704.5h1V708h-1zM755 703.9h1V708h-1zM757 703.0h1V708h-1zM778 705.3h1V708h-1zM781 703.6h1V708h-1zM784 703.3h1V708h-1zM786 703.9h1V708h-1zM797 702.8h1V708h-1zM800 702.8h1V708h-1zM805 703.4h1V708h-1zM813 703.2h1V708h-1zM815 704.8h1V708h-1zM818 705.7h1V708h-1zM826 703.5h1V708h-1zM834 703.3h1V708h-1zM839 703.4h1V708h-1zM850 705.5h1V708h-1zM852 705.5h1V708h-1zM858 703.6h1V708h-1zM863 703.7h1V708h-1zM865 702.9h1V708h-1zM873 705.7h1V708h-1zM876 705.3h1V708h-1zM879 704.3h1V708h-1zM881 705.0h1V708h-1zM887 703.9h1V708h-1zM892 703.2h1V708h-1zM897 705.0h1V708h-1zM900 704.7h1V708h-1zM905 703.0h1V708h-1zM908 705.3h1V708h-1zM913 702.8h1V708h-1zM916 704.3h1V708h-1zM926 704.3h1V708h-1zM929 704.0h1V708h-1zM934 702.8h1V708h-1zM947 704.4h1V708h-1zM950 703.7h1V708h-1zM952 705.8h1V708h-1zM955 704.2h1V708h-1zM958 704.6h1V708h-1zM960 702.8h1V708h-1zM968 704.4h1V708h-1zM976 703.3h1V708h-1zM979 703.0h1V708h-1zM982 704.4h1V708h-1zM984 705.0h1V708h-1zM995 705.6h1V708h-1zM997 703.4h1V708h-1zM1003 704.7h1V708h-1zM1008 702.8h1V708h-1zM1011 704.2h1V708h-1zM1024 705.0h1V708h-1zM1029 704.5h1V708h-1zM1032 704.7h1V708h-1zM1050 704.7h1V708h-1zM1053 703.0h1V708h-1zM1058 703.4h1V708h-1zM1063 703.1h1V708h-1zM1066 702.1h1V708h-1zM1071 702.5h1V708h-1zM1079 704.2h1V708h-1zM1082 696.0h1V708h-1zM1084 701.8h1V708h-1zM1087 704.6h1V708h-1zM1090 701.5h1V708h-1zM1095 696.5h1V708h-1zM1098 700.0h1V708h-1zM1108 702.2h1V708h-1zM1111 701.0h1V708h-1zM1124 705.4h1V708h-1zM1137 705.4h1V708h-1zM1140 704.2h1V708h-1zM1150 705.2h1V708h-1zM1156 705.5h1V708h-1zM1158 705.7h1V708h-1zM1161 704.0h1V708h-1zM1174 705.1h1V708h-1zM1177 703.1h1V708h-1zM1185 705.5h1V708h-1zM1195 703.4h1V708h-1zM1211 705.8h1V708h-1zM1214 703.6h1V708h-1zM1216 703.1h1V708h-1zM1224 703.4h1V708h-1zM1227 704.5h1V708h-1zM1237 705.8h1V708h-1zM1240 702.9h1V708h-1zM1243 703.2h1V708h-1zM1258 704.2h1V708h-1zM1264 703.2h1V708h-1zM1266 705.0h1V708h-1zM1274 703.3h1V708h-1zM1279 704.5h1V708h-1zM1285 703.0h1V708h-1zM1287 703.6h1V708h-1zM1295 704.5h1V708h-1zM1301 705.6h1V708h-1zM1303 704.7h1V708h-1zM1314 703.8h1V708h-1zM1319 705.1h1V708h-1zM1324 703.7h1V708h-1zM1327 704.7h1V708h-1zM1337 704.6h1V708h-1zM1343 703.7h1V708h-1zM1348 703.4h1V708h-1zM1361 705.0h1V708h-1zM1369 705.2h1V708h-1zM1374 705.5h1V708h-1zM1377 705.0h1V708h-1zM1393 702.6h1V708h-1zM1395 703.8h1V708h-1zM1411 702.8h1V708h-1zM1422 704.2h1V708h-1zM1427 705.6h1V708h-1zM1435 704.1h1V708h-1zM1440 704.6h1V708h-1zM1459 701.0h1V708h-1zM1469 696.3h1V708h-1z" fill="#e0b1b1"/>
</g>
<polyline points="0.0,701.5 4.0,703.2 31.0,703.2 47.0,700.9 75.0,699.0 82.0,699.0 93.0,702.1 104.0,702.1 108.0,700.3 138.0,700.3 144.0,699.0 162.0,699.0 168.0,698.4 179.0,698.4 188.0,699.6 200.0,699.6 220.0,701.6 262.0,701.6 270.0,697.6 280.0,694.6 296.0,692.0 312.0,689.6 320.0,688.6 323.0,691.2 331.0,685.6 338.0,674.6 344.0,673.2 360.0,672.2 377.0,669.6 383.0,672.6 389.0,681.6 396.0,685.6 412.0,688.2 426.0,692.0 440.0,694.6 444.0,696.0 460.0,696.6 480.0,697.2 494.0,697.0 504.0,699.2 520.0,700.6 545.0,699.3 600.0,700.0 650.0,702.4 700.0,702.8 800.0,703.1 1000.0,703.2 1040.0,702.6 1050.0,701.0 1120.0,701.0 1130.0,702.6 1200.0,703.0 1400.0,703.0 1455.0,702.8 1462.0,702.5 1470.0,700.5 1479.0,698.5" fill="none" stroke="#6e6e6e" stroke-width="1"/>
</g>
<g stroke="#3f927b" fill="none" stroke-linecap="butt">
<line x1="272.7" y1="210.7" x2="1546" y2="209.6" stroke-width="1.1"/>
<line x1="266.1" y1="231.5" x2="1546" y2="230.4" stroke-width="1.1"/>
<line x1="601" y1="304.3" x2="1546" y2="307.8" stroke-width="1.9"/>
<line x1="944" y1="384.2" x2="1546" y2="384.7" stroke-width="2.1"/>
<line x1="319.5" y1="55.2" x2="1120.2" y2="353.6" stroke-width="1"/>
<line x1="1044.5" y1="280.1" x2="1546" y2="374.2" stroke-width="1"/>
<line x1="1045.1" y1="315.7" x2="1410.5" y2="386.2" stroke-width="1"/>
<line x1="978.2" y1="341.3" x2="1546" y2="383.4" stroke-width="1"/>
<line x1="915" y1="358" x2="1539.8" y2="358" stroke-width="2" stroke-opacity="0.22"/>
</g>
<line x1="0" y1="313.5" x2="1547" y2="313.5" stroke="#bfefb2" stroke-width="1" shape-rendering="crispEdges"/>
<g id="candles">
<g shape-rendering="crispEdges"><path d="M0.5 436V455M2.5 463V479M5.5 448V463M8.5 417V449M10.5 431V451M13.5 418V433M15.5 417V447M18.5 425V433M21.5 408V429M23.5 393V412M26.5 385V404M29.5 374V389M31.5 357V371M34.5 360V389M37.5 379V399M39.5 379V400M42.5 372V411M44.5 371V381M47.5 386V395M50.5 400V407M52.5 391V414M55.5 391V413M58.5 388V400M60.5 369V399M63.5 365V373M66.5 356V372M68.5 337V363M71.5 336V349M73.5 343V356M76.5 361V368M79.5 368V375M81.5 368V382M84.5 387V396M87.5 381V398M89.5 371V385M92.5 366V372M95.5 351V365M97.5 352V364M100.5 363V377M102.5 357V363" stroke="#7d7d7d" stroke-width="1" fill="none"/>
<path d="M-1 447h3v3h-3zM1 469h3v3h-3zM4 449h3v4h-3zM7 437h3v10h-3zM12 419h3v10h-3zM14 426h3v10h-3zM17 426h3v6h-3zM20 409h3v16h-3zM22 395h3v11h-3zM25 387h3v12h-3zM28 374h3v13h-3zM30 361h3v8h-3zM41 373h3v16h-3zM49 401h3v5h-3zM54 391h3v20h-3zM59 370h3v27h-3zM62 369h3v3h-3zM65 356h3v16h-3zM67 340h3v21h-3zM78 369h3v4h-3zM86 381h3v17h-3zM88 373h3v2h-3zM94 358h3v6h-3zM96 358h3v5h-3zM99 366h3v3h-3zM101 357h3v6h-3z" fill="#2a5a30"/>
<path d="M9 432h3v4h-3zM33 366h3v21h-3zM36 381h3v3h-3zM38 381h3v3h-3zM43 373h3v8h-3zM46 387h3v6h-3zM51 392h3v20h-3zM57 388h3v11h-3zM70 338h3v10h-3zM72 353h3v2h-3zM75 363h3v3h-3zM80 370h3v11h-3zM83 388h3v8h-3zM91 368h3v3h-3z" fill="#6b1a10"/>
<path d="M0 448h1v1h-1zM2 470h1v1h-1zM5 450h1v2h-1zM8 438h1v8h-1zM13 420h1v8h-1zM15 427h1v8h-1zM18 427h1v4h-1zM21 410h1v14h-1zM23 396h1v9h-1zM26 388h1v10h-1zM29 375h1v11h-1zM31 362h1v6h-1zM42 374h1v14h-1zM50 402h1v3h-1zM55 392h1v18h-1zM60 371h1v25h-1zM63 370h1v1h-1zM66 357h1v14h-1zM68 341h1v19h-1zM79 370h1v2h-1zM87 382h1v15h-1zM95 359h1v4h-1zM97 359h1v3h-1zM100 367h1v1h-1zM102 358h1v4h-1z" fill="#5adf3c"/>
<path d="M10 433h1v2h-1zM34 367h1v19h-1zM37 382h1v1h-1zM39 382h1v1h-1zM44 374h1v6h-1zM47 388h1v4h-1zM52 393h1v18h-1zM58 389h1v9h-1zM71 339h1v8h-1zM76 364h1v1h-1zM81 371h1v9h-1zM84 389h1v6h-1zM92 369h1v1h-1z" fill="#e8301f"/>
<path d="M105.5 332V360M108.5 315V331M110.5 312V328M113.5 325V336M116.5 333V336M118.5 308V334M121.5 306V315M124.5 309V313M126.5 309V333M129.5 312V331M131.5 309V319M134.5 293V309M137.5 285V303M139.5 292V307M142.5 305V317M145.5 312V319M147.5 312V316M150.5 312V323M153.5 297V315M155.5 293V301M158.5 297V321M160.5 319V334M163.5 329V359M166.5 342V353M168.5 328V341M171.5 323V332M174.5 313V329M176.5 312V321M179.5 318V323M182.5 320V328M184.5 308V317M187.5 300V308M189.5 299V311M192.5 303V313M195.5 295V303M197.5 294V318M200.5 281V299M203.5 288V311M205.5 298V310M208.5 297V315" stroke="#7d7d7d" stroke-width="1" fill="none"/>
<path d="M104 332h3v26h-3zM107 323h3v2h-3zM109 321h3v6h-3zM117 309h3v23h-3zM123 310h3v2h-3zM128 313h3v16h-3zM133 298h3v10h-3zM138 298h3v5h-3zM144 313h3v2h-3zM152 298h3v17h-3zM165 344h3v8h-3zM167 333h3v5h-3zM170 329h3v1h-3zM173 315h3v13h-3zM181 321h3v5h-3zM183 308h3v8h-3zM186 300h3v7h-3zM191 304h3v7h-3zM194 297h3v4h-3zM199 288h3v10h-3zM204 300h3v9h-3z" fill="#2a5a30"/>
<path d="M112 325h3v10h-3zM115 333h3v2h-3zM120 308h3v5h-3zM125 311h3v20h-3zM130 311h3v2h-3zM136 294h3v7h-3zM141 306h3v11h-3zM146 313h3v3h-3zM149 312h3v11h-3zM154 295h3v5h-3zM157 298h3v22h-3zM159 320h3v13h-3zM162 331h3v20h-3zM175 313h3v7h-3zM178 320h3v1h-3zM188 301h3v10h-3zM196 295h3v6h-3zM202 288h3v23h-3zM207 298h3v17h-3z" fill="#6b1a10"/>
<path d="M105 333h1v24h-1zM110 322h1v4h-1zM118 310h1v21h-1zM129 314h1v14h-1zM134 299h1v8h-1zM139 299h1v3h-1zM153 299h1v15h-1zM166 345h1v6h-1zM168 334h1v3h-1zM174 316h1v11h-1zM182 322h1v3h-1zM184 309h1v6h-1zM187 301h1v5h-1zM192 305h1v5h-1zM195 298h1v2h-1zM200 289h1v8h-1zM205 301h1v7h-1z" fill="#5adf3c"/>
<path d="M113 326h1v8h-1zM121 309h1v3h-1zM126 312h1v18h-1zM137 295h1v5h-1zM142 307h1v9h-1zM147 314h1v1h-1zM150 313h1v9h-1zM155 296h1v3h-1zM158 299h1v20h-1zM160 321h1v11h-1zM163 332h1v18h-1zM176 314h1v5h-1zM189 302h1v8h-1zM197 296h1v4h-1zM203 289h1v21h-1zM208 299h1v15h-1z" fill="#e8301f"/>
<path d="M211.5 304V317M213.5 289V300M216.5 287V291M218.5 290V309M221.5 305V310M224.5 300V310M226.5 300V314M229.5 303V308M232.5 296V303M234.5 301V305M237.5 299V309M240.5 291V308M242.5 279V292M245.5 278V282M247.5 268V280M250.5 261V270M253.5 252V263M255.5 240V255M258.5 226V242M261.5 232V242M263.5 224V240M266.5 202V222M269.5 180V212M271.5 198V222M274.5 199V205M276.5 180V206M279.5 169V192M282.5 176V189M284.5 179V185M287.5 167V181M290.5 167V187M292.5 178V191M295.5 180V199M298.5 193V205M300.5 182V196M303.5 171V183M305.5 154V174M308.5 145V152M311.5 131V148M313.5 123V130" stroke="#7d7d7d" stroke-width="1" fill="none"/>
<path d="M210 304h3v12h-3zM212 290h3v10h-3zM220 305h3v4h-3zM225 305h3v6h-3zM231 300h3v1h-3zM239 291h3v16h-3zM241 281h3v10h-3zM246 270h3v10h-3zM249 261h3v8h-3zM252 254h3v7h-3zM254 240h3v15h-3zM257 230h3v12h-3zM262 225h3v10h-3zM265 204h3v18h-3zM270 199h3v12h-3zM275 181h3v23h-3zM283 181h3v1h-3zM286 168h3v13h-3zM297 194h3v6h-3zM299 183h3v12h-3zM302 176h3v6h-3zM304 154h3v19h-3zM307 148h3v1h-3zM310 132h3v15h-3z" fill="#2a5a30"/>
<path d="M215 288h3v3h-3zM217 291h3v18h-3zM223 306h3v2h-3zM228 304h3v3h-3zM233 301h3v4h-3zM236 301h3v6h-3zM244 280h3v1h-3zM260 232h3v8h-3zM268 204h3v7h-3zM273 199h3v5h-3zM278 178h3v8h-3zM281 179h3v4h-3zM289 167h3v19h-3zM291 185h3v5h-3zM294 186h3v13h-3zM312 126h3v3h-3z" fill="#6b1a10"/>
<path d="M211 305h1v10h-1zM213 291h1v8h-1zM221 306h1v2h-1zM226 306h1v4h-1zM240 292h1v14h-1zM242 282h1v8h-1zM247 271h1v8h-1zM250 262h1v6h-1zM253 255h1v5h-1zM255 241h1v13h-1zM258 231h1v10h-1zM263 226h1v8h-1zM266 205h1v16h-1zM271 200h1v10h-1zM276 182h1v21h-1zM287 169h1v11h-1zM298 195h1v4h-1zM300 184h1v10h-1zM303 177h1v4h-1zM305 155h1v17h-1zM311 133h1v13h-1z" fill="#5adf3c"/>
<path d="M216 289h1v1h-1zM218 292h1v16h-1zM229 305h1v1h-1zM234 302h1v2h-1zM237 302h1v4h-1zM261 233h1v6h-1zM269 205h1v5h-1zM274 200h1v3h-1zM279 179h1v6h-1zM282 180h1v2h-1zM290 168h1v17h-1zM292 186h1v3h-1zM295 187h1v11h-1zM313 127h1v1h-1z" fill="#e8301f"/>
<path d="M316.5 128V143M319.5 113V131M321.5 114V124M324.5 95V114M327.5 82V102M329.5 61V83M332.5 46V70M334.5 57V139M337.5 109V152M340.5 134V150M342.5 113V139M345.5 110V127M348.5 119V128M350.5 129V133M353.5 123V143M356.5 141V148M358.5 122V138M361.5 106V125M363.5 97V113M366.5 93V104M369.5 87V118M371.5 105V120M374.5 83V107M377.5 77V93M379.5 80V99M382.5 87V94M385.5 95V105M387.5 97V172M390.5 148V193M392.5 155V188M395.5 157V160M398.5 156V176M400.5 134V166M403.5 138V143M406.5 134V144M408.5 139V166M411.5 164V170M414.5 149V160M416.5 153V159M419.5 165V180" stroke="#7d7d7d" stroke-width="1" fill="none"/>
<path d="M318 120h3v10h-3zM320 116h3v7h-3zM323 97h3v15h-3zM326 83h3v11h-3zM328 61h3v20h-3zM339 135h3v3h-3zM341 115h3v23h-3zM349 130h3v2h-3zM355 144h3v1h-3zM357 123h3v13h-3zM360 107h3v16h-3zM373 84h3v23h-3zM378 81h3v15h-3zM389 178h3v15h-3zM391 168h3v1h-3zM394 158h3v2h-3zM399 135h3v29h-3zM405 139h3v1h-3zM413 155h3v3h-3z" fill="#2a5a30"/>
<path d="M315 129h3v7h-3zM331 54h3v1h-3zM333 70h3v63h-3zM336 121h3v13h-3zM344 111h3v15h-3zM347 120h3v8h-3zM352 130h3v12h-3zM362 99h3v3h-3zM365 98h3v5h-3zM368 107h3v6h-3zM370 106h3v2h-3zM376 81h3v11h-3zM381 88h3v4h-3zM384 97h3v3h-3zM386 100h3v70h-3zM397 157h3v7h-3zM402 140h3v3h-3zM407 140h3v17h-3zM410 165h3v3h-3zM415 153h3v5h-3zM418 166h3v13h-3z" fill="#6b1a10"/>
<path d="M319 121h1v8h-1zM321 117h1v5h-1zM324 98h1v13h-1zM327 84h1v9h-1zM329 62h1v18h-1zM340 136h1v1h-1zM342 116h1v21h-1zM358 124h1v11h-1zM361 108h1v14h-1zM374 85h1v21h-1zM379 82h1v13h-1zM390 179h1v13h-1zM400 136h1v27h-1zM414 156h1v1h-1z" fill="#5adf3c"/>
<path d="M316 130h1v5h-1zM334 71h1v61h-1zM337 122h1v11h-1zM345 112h1v13h-1zM348 121h1v6h-1zM353 131h1v10h-1zM363 100h1v1h-1zM366 99h1v3h-1zM369 108h1v4h-1zM377 82h1v9h-1zM382 89h1v2h-1zM385 98h1v1h-1zM387 101h1v68h-1zM398 158h1v5h-1zM403 141h1v1h-1zM408 141h1v15h-1zM411 166h1v1h-1zM416 154h1v3h-1zM419 167h1v11h-1z" fill="#e8301f"/>
<path d="M422.5 178V190M424.5 186V210M427.5 178V189M429.5 179V186M432.5 158V176M435.5 145V161M437.5 141V150M440.5 141V150M443.5 146V153M445.5 134V146M448.5 119V140M451.5 140V144M453.5 145V162M456.5 150V167M458.5 150V159M461.5 149V166M464.5 162V166M466.5 160V166M469.5 165V177M472.5 165V175M474.5 174V190M477.5 186V206M480.5 189V202M482.5 188V200M485.5 178V192M487.5 184V191M490.5 186V206M493.5 198V212M495.5 191V205M498.5 200V208M501.5 199V201M503.5 197V206M506.5 193V198M509.5 193V198M511.5 192V196M514.5 171V195M516.5 163V170M519.5 146V160M522.5 140V156M524.5 136V144" stroke="#7d7d7d" stroke-width="1" fill="none"/>
<path d="M421 184h3v1h-3zM426 187h3v1h-3zM428 180h3v4h-3zM431 159h3v16h-3zM434 145h3v14h-3zM436 146h3v3h-3zM439 147h3v2h-3zM444 134h3v12h-3zM465 162h3v2h-3zM468 166h3v5h-3zM476 189h3v1h-3zM479 191h3v2h-3zM481 190h3v1h-3zM484 189h3v2h-3zM486 188h3v1h-3zM492 200h3v6h-3zM500 200h3v1h-3zM502 198h3v8h-3zM505 194h3v4h-3zM508 194h3v3h-3zM510 194h3v1h-3zM513 172h3v22h-3zM515 163h3v7h-3zM518 148h3v12h-3zM521 141h3v8h-3zM523 142h3v1h-3z" fill="#2a5a30"/>
<path d="M423 187h3v11h-3zM442 147h3v3h-3zM447 134h3v5h-3zM450 141h3v2h-3zM452 146h3v10h-3zM455 156h3v2h-3zM457 155h3v3h-3zM460 156h3v9h-3zM463 163h3v2h-3zM471 171h3v3h-3zM473 175h3v12h-3zM489 191h3v14h-3zM494 200h3v4h-3zM497 201h3v1h-3z" fill="#6b1a10"/>
<path d="M429 181h1v2h-1zM432 160h1v14h-1zM435 146h1v12h-1zM437 147h1v1h-1zM445 135h1v10h-1zM469 167h1v3h-1zM493 201h1v4h-1zM503 199h1v6h-1zM506 195h1v2h-1zM509 195h1v1h-1zM514 173h1v20h-1zM516 164h1v5h-1zM519 149h1v10h-1zM522 142h1v6h-1z" fill="#5adf3c"/>
<path d="M424 188h1v9h-1zM443 148h1v1h-1zM448 135h1v3h-1zM453 147h1v8h-1zM458 156h1v1h-1zM461 157h1v7h-1zM472 172h1v1h-1zM474 176h1v10h-1zM490 192h1v12h-1zM495 201h1v2h-1z" fill="#e8301f"/>
<path d="M527.5 140V149M530.5 136V143M532.5 145V151M535.5 152V162M538.5 158V163M540.5 160V171M543.5 154V170M545.5 157V160M548.5 145V154M551.5 142V151M553.5 148V156M556.5 147V160M559.5 157V180M561.5 176V180M564.5 166V181M567.5 169V179M569.5 161V169M572.5 157V168M574.5 159V171M577.5 161V166M580.5 168V179M582.5 179V190M585.5 187V193M588.5 184V192M590.5 187V190M593.5 184V189M596.5 189V193M598.5 195V205M601.5 203V215M603.5 237V249M606.5 230V245M609.5 231V235M611.5 234V243M614.5 237V257M617.5 245V264M619.5 246V256M622.5 247V263M625.5 257V262M627.5 259V288M630.5 285V304" stroke="#7d7d7d" stroke-width="1" fill="none"/>
<path d="M526 142h3v4h-3zM542 157h3v12h-3zM547 145h3v9h-3zM560 177h3v1h-3zM563 177h3v1h-3zM566 175h3v4h-3zM568 162h3v7h-3zM573 163h3v7h-3zM576 165h3v1h-3zM587 187h3v4h-3zM589 188h3v1h-3zM605 236h3v5h-3zM616 255h3v8h-3zM618 254h3v1h-3zM624 257h3v3h-3zM629 286h3v2h-3z" fill="#2a5a30"/>
<path d="M529 138h3v4h-3zM531 146h3v3h-3zM534 152h3v9h-3zM537 159h3v2h-3zM539 160h3v10h-3zM544 157h3v2h-3zM550 145h3v5h-3zM552 149h3v2h-3zM555 150h3v9h-3zM558 159h3v20h-3zM571 162h3v5h-3zM579 169h3v10h-3zM581 179h3v10h-3zM584 187h3v4h-3zM592 187h3v2h-3zM595 189h3v4h-3zM597 195h3v8h-3zM600 203h3v11h-3zM602 238h3v7h-3zM608 233h3v2h-3zM610 235h3v3h-3zM613 238h3v18h-3zM621 253h3v9h-3zM626 260h3v22h-3z" fill="#6b1a10"/>
<path d="M527 143h1v2h-1zM543 158h1v10h-1zM548 146h1v7h-1zM567 176h1v2h-1zM569 163h1v5h-1zM574 164h1v5h-1zM588 188h1v2h-1zM606 237h1v3h-1zM617 256h1v6h-1zM625 258h1v1h-1z" fill="#5adf3c"/>
<path d="M530 139h1v2h-1zM532 147h1v1h-1zM535 153h1v7h-1zM540 161h1v8h-1zM551 146h1v3h-1zM556 151h1v7h-1zM559 160h1v18h-1zM572 163h1v3h-1zM580 170h1v8h-1zM582 180h1v8h-1zM585 188h1v2h-1zM596 190h1v2h-1zM598 196h1v6h-1zM601 204h1v9h-1zM603 239h1v5h-1zM611 236h1v1h-1zM614 239h1v16h-1zM622 254h1v7h-1zM627 261h1v20h-1z" fill="#e8301f"/>
<path d="M632.5 285V301M635.5 280V296M638.5 280V290M640.5 275V284M643.5 282V291M646.5 275V291M648.5 246V268M651.5 235V248M654.5 229V243M656.5 230V241M659.5 239V263M661.5 241V267M664.5 260V263M667.5 262V275M669.5 253V268M672.5 259V269M675.5 248V256M677.5 247V261M680.5 259V266M683.5 265V276M685.5 273V287M688.5 281V286M690.5 286V296M693.5 278V289M696.5 279V295M698.5 283V293M701.5 281V296M704.5 281V282M706.5 276V284M709.5 285V288M712.5 284V296M714.5 283V295M717.5 266V282M719.5 259V263M722.5 257V269M725.5 265V275M727.5 263V274M730.5 265V283M733.5 281V289M735.5 283V285" stroke="#7d7d7d" stroke-width="1" fill="none"/>
<path d="M634 286h3v10h-3zM645 277h3v9h-3zM647 246h3v21h-3zM650 236h3v8h-3zM663 261h3v1h-3zM666 263h3v2h-3zM671 260h3v5h-3zM674 253h3v2h-3zM687 284h3v2h-3zM689 289h3v1h-3zM692 287h3v1h-3zM697 283h3v9h-3zM700 282h3v6h-3zM703 281h3v1h-3zM705 280h3v3h-3zM708 285h3v2h-3zM713 284h3v9h-3zM716 266h3v16h-3zM718 261h3v1h-3zM726 266h3v7h-3zM734 284h3v1h-3z" fill="#2a5a30"/>
<path d="M631 286h3v13h-3zM637 285h3v4h-3zM639 279h3v4h-3zM642 283h3v3h-3zM653 235h3v7h-3zM655 231h3v8h-3zM658 240h3v17h-3zM660 258h3v4h-3zM668 259h3v8h-3zM676 253h3v7h-3zM679 260h3v5h-3zM682 266h3v9h-3zM684 275h3v11h-3zM695 288h3v5h-3zM711 286h3v8h-3zM721 259h3v10h-3zM724 266h3v7h-3zM729 266h3v15h-3zM732 281h3v5h-3z" fill="#6b1a10"/>
<path d="M635 287h1v8h-1zM646 278h1v7h-1zM648 247h1v19h-1zM651 237h1v6h-1zM672 261h1v3h-1zM698 284h1v7h-1zM701 283h1v4h-1zM706 281h1v1h-1zM714 285h1v7h-1zM717 267h1v14h-1zM727 267h1v5h-1z" fill="#5adf3c"/>
<path d="M632 287h1v11h-1zM638 286h1v2h-1zM640 280h1v2h-1zM643 284h1v1h-1zM654 236h1v5h-1zM656 232h1v6h-1zM659 241h1v15h-1zM661 259h1v2h-1zM669 260h1v6h-1zM677 254h1v5h-1zM680 261h1v3h-1zM683 267h1v7h-1zM685 276h1v9h-1zM696 289h1v3h-1zM712 287h1v6h-1zM722 260h1v8h-1zM725 267h1v5h-1zM730 267h1v13h-1zM733 282h1v3h-1z" fill="#e8301f"/>
<path d="M738.5 282V286M741.5 284V291M743.5 287V292M746.5 289V297M748.5 290V295M751.5 286V292M754.5 290V294M756.5 296V301M759.5 296V301M762.5 288V298M764.5 273V289M767.5 270V274M770.5 271V274M772.5 265V273M775.5 271V276M777.5 271V276M780.5 274V280M783.5 278V285M785.5 284V291M788.5 289V291M791.5 290V292M793.5 294V295M796.5 294V303M799.5 299V314M801.5 315V321M804.5 319V330M806.5 316V326M809.5 314V323M812.5 320V324M814.5 324V341M817.5 341V354M820.5 337V351M822.5 332V341M825.5 334V353M828.5 330V345M830.5 323V338M833.5 328V349M835.5 341V350M838.5 341V349M841.5 335V344" stroke="#7d7d7d" stroke-width="1" fill="none"/>
<path d="M737 284h3v1h-3zM742 288h3v4h-3zM758 298h3v3h-3zM761 288h3v9h-3zM763 273h3v16h-3zM766 272h3v1h-3zM769 271h3v3h-3zM771 267h3v6h-3zM774 273h3v1h-3zM787 290h3v1h-3zM790 291h3v1h-3zM792 294h3v1h-3zM800 316h3v1h-3zM805 322h3v4h-3zM808 321h3v1h-3zM819 338h3v9h-3zM821 336h3v4h-3zM827 337h3v7h-3zM829 327h3v10h-3zM834 342h3v1h-3zM840 335h3v8h-3z" fill="#2a5a30"/>
<path d="M740 284h3v5h-3zM745 290h3v1h-3zM747 290h3v5h-3zM750 290h3v1h-3zM753 290h3v2h-3zM755 296h3v4h-3zM776 272h3v4h-3zM779 276h3v4h-3zM782 279h3v6h-3zM784 285h3v4h-3zM795 296h3v7h-3zM798 303h3v11h-3zM803 319h3v11h-3zM811 321h3v3h-3zM813 324h3v16h-3zM816 342h3v6h-3zM824 336h3v16h-3zM832 329h3v13h-3zM837 342h3v4h-3z" fill="#6b1a10"/>
<path d="M743 289h1v2h-1zM759 299h1v1h-1zM762 289h1v7h-1zM764 274h1v14h-1zM770 272h1v1h-1zM772 268h1v4h-1zM806 323h1v2h-1zM820 339h1v7h-1zM822 337h1v2h-1zM828 338h1v5h-1zM830 328h1v8h-1zM841 336h1v6h-1z" fill="#5adf3c"/>
<path d="M741 285h1v3h-1zM748 291h1v3h-1zM756 297h1v2h-1zM777 273h1v2h-1zM780 277h1v2h-1zM783 280h1v4h-1zM785 286h1v2h-1zM796 297h1v5h-1zM799 304h1v9h-1zM804 320h1v9h-1zM812 322h1v1h-1zM814 325h1v14h-1zM817 343h1v4h-1zM825 337h1v14h-1zM833 330h1v11h-1zM838 343h1v2h-1z" fill="#e8301f"/>
<path d="M843.5 316V336M846.5 306V316M849.5 309V330M851.5 323V334M854.5 319V330M857.5 334V339M859.5 333V337M862.5 333V345M864.5 345V354M867.5 331V347M870.5 328V329M872.5 330V331M875.5 323V340M878.5 336V339M880.5 342V350M883.5 339V344M886.5 332V336M888.5 318V336M891.5 316V327M893.5 329V333M896.5 325V343M899.5 341V345M901.5 337V344M904.5 339V347M907.5 345V349M909.5 349V352M912.5 352V365M915.5 362V371M917.5 359V367M920.5 362V370M922.5 350V363M925.5 350V356M928.5 356V378M930.5 367V370M933.5 364V371M936.5 354V372M938.5 355V358M941.5 355V368M944.5 344V350M946.5 341V345" stroke="#7d7d7d" stroke-width="1" fill="none"/>
<path d="M842 316h3v19h-3zM845 308h3v7h-3zM853 323h3v6h-3zM858 333h3v3h-3zM866 331h3v16h-3zM869 328h3v1h-3zM882 341h3v2h-3zM887 319h3v17h-3zM892 330h3v1h-3zM900 341h3v2h-3zM908 350h3v1h-3zM916 365h3v1h-3zM919 363h3v2h-3zM921 357h3v5h-3zM929 367h3v3h-3zM935 358h3v13h-3zM937 357h3v1h-3zM940 356h3v12h-3zM943 346h3v4h-3z" fill="#2a5a30"/>
<path d="M848 310h3v13h-3zM850 325h3v7h-3zM856 336h3v2h-3zM861 334h3v11h-3zM863 346h3v5h-3zM871 330h3v1h-3zM874 325h3v11h-3zM877 337h3v2h-3zM879 342h3v6h-3zM885 333h3v3h-3zM890 317h3v9h-3zM895 328h3v14h-3zM898 342h3v2h-3zM903 342h3v4h-3zM906 346h3v3h-3zM911 353h3v9h-3zM914 363h3v3h-3zM924 354h3v1h-3zM927 366h3v1h-3zM932 365h3v2h-3zM945 343h3v2h-3z" fill="#6b1a10"/>
<path d="M843 317h1v17h-1zM846 309h1v5h-1zM854 324h1v4h-1zM859 334h1v1h-1zM867 332h1v14h-1zM888 320h1v15h-1zM922 358h1v3h-1zM930 368h1v1h-1zM936 359h1v11h-1zM941 357h1v10h-1zM944 347h1v2h-1z" fill="#5adf3c"/>
<path d="M849 311h1v11h-1zM851 326h1v5h-1zM862 335h1v9h-1zM864 347h1v3h-1zM875 326h1v9h-1zM880 343h1v4h-1zM886 334h1v1h-1zM891 318h1v7h-1zM896 329h1v12h-1zM904 343h1v2h-1zM907 347h1v1h-1zM912 354h1v7h-1zM915 364h1v1h-1z" fill="#e8301f"/>
<path d="M949.5 345V347M951.5 338V352M954.5 353V367M957.5 365V375M959.5 373V378M962.5 375V377M965.5 367V378M967.5 369V381M970.5 376V383M973.5 372V373M975.5 378V384M978.5 372V381M981.5 377V383M983.5 376V379M986.5 373V375M988.5 360V373M991.5 345V357M994.5 351V355M996.5 357V367M999.5 347V365M1002.5 350V354M1004.5 345V348M1007.5 346V358M1010.5 355V364M1012.5 353V364M1015.5 340V352M1017.5 323V341M1020.5 314V329M1023.5 315V322M1025.5 320V329M1028.5 323V339M1031.5 339V342M1033.5 337V347M1036.5 323V339M1039.5 318V324M1041.5 318V326M1044.5 291V319M1046.5 284V290M1049.5 282V287M1052.5 288V293" stroke="#7d7d7d" stroke-width="1" fill="none"/>
<path d="M961 376h3v1h-3zM964 368h3v9h-3zM969 377h3v5h-3zM972 372h3v1h-3zM985 373h3v1h-3zM987 360h3v13h-3zM990 348h3v9h-3zM998 352h3v13h-3zM1003 345h3v1h-3zM1011 354h3v6h-3zM1014 341h3v9h-3zM1016 329h3v12h-3zM1019 316h3v13h-3zM1024 326h3v1h-3zM1032 338h3v6h-3zM1035 323h3v15h-3zM1038 322h3v1h-3zM1040 318h3v6h-3zM1043 291h3v26h-3zM1045 284h3v5h-3z" fill="#2a5a30"/>
<path d="M948 345h3v1h-3zM950 345h3v6h-3zM953 354h3v11h-3zM956 367h3v7h-3zM958 373h3v3h-3zM966 370h3v10h-3zM974 378h3v4h-3zM977 375h3v5h-3zM980 378h3v3h-3zM982 376h3v2h-3zM993 352h3v2h-3zM995 359h3v7h-3zM1001 350h3v3h-3zM1006 347h3v11h-3zM1009 356h3v3h-3zM1022 317h3v5h-3zM1027 324h3v13h-3zM1030 340h3v2h-3zM1048 284h3v2h-3zM1051 288h3v5h-3z" fill="#6b1a10"/>
<path d="M965 369h1v7h-1zM970 378h1v3h-1zM988 361h1v11h-1zM991 349h1v7h-1zM999 353h1v11h-1zM1012 355h1v4h-1zM1015 342h1v7h-1zM1017 330h1v10h-1zM1020 317h1v11h-1zM1033 339h1v4h-1zM1036 324h1v13h-1zM1041 319h1v4h-1zM1044 292h1v24h-1zM1046 285h1v3h-1z" fill="#5adf3c"/>
<path d="M951 346h1v4h-1zM954 355h1v9h-1zM957 368h1v5h-1zM959 374h1v1h-1zM967 371h1v8h-1zM975 379h1v2h-1zM978 376h1v3h-1zM981 379h1v1h-1zM996 360h1v5h-1zM1002 351h1v1h-1zM1007 348h1v9h-1zM1010 357h1v1h-1zM1023 318h1v3h-1zM1028 325h1v11h-1zM1052 289h1v3h-1z" fill="#e8301f"/>
<path d="M1054.5 281V295M1057.5 276V292M1060.5 290V291M1062.5 289V297M1065.5 299V306M1068.5 296V306M1070.5 285V301M1073.5 298V304M1075.5 286V298M1078.5 290V301M1081.5 298V327M1083.5 318V323M1086.5 320V325M1089.5 315V321M1091.5 303V317M1094.5 302V325M1097.5 328V338M1099.5 335V341M1102.5 332V338M1104.5 332V336M1107.5 326V345M1110.5 343V353M1112.5 346V348M1115.5 337V344M1118.5 330V337M1120.5 324V333M1123.5 327V331M1126.5 321V328M1128.5 315V322M1131.5 313V317M1133.5 309V317M1136.5 308V317M1139.5 316V332M1141.5 323V330M1144.5 318V325M1147.5 313V315M1149.5 313V317M1152.5 306V318M1155.5 306V317M1157.5 319V328" stroke="#7d7d7d" stroke-width="1" fill="none"/>
<path d="M1053 282h3v13h-3zM1059 290h3v1h-3zM1067 296h3v10h-3zM1072 303h3v1h-3zM1074 291h3v7h-3zM1090 309h3v8h-3zM1098 336h3v1h-3zM1101 334h3v3h-3zM1103 332h3v2h-3zM1111 346h3v2h-3zM1114 337h3v7h-3zM1117 332h3v4h-3zM1119 327h3v2h-3zM1125 323h3v4h-3zM1127 316h3v5h-3zM1130 315h3v1h-3zM1132 310h3v6h-3zM1140 324h3v6h-3zM1143 319h3v4h-3zM1146 313h3v1h-3zM1151 308h3v8h-3z" fill="#2a5a30"/>
<path d="M1056 282h3v9h-3zM1061 290h3v6h-3zM1064 301h3v4h-3zM1069 292h3v8h-3zM1077 292h3v7h-3zM1080 299h3v23h-3zM1082 320h3v3h-3zM1085 320h3v3h-3zM1088 316h3v2h-3zM1093 312h3v12h-3zM1096 328h3v8h-3zM1106 328h3v16h-3zM1109 344h3v7h-3zM1122 327h3v3h-3zM1135 310h3v7h-3zM1138 317h3v13h-3zM1148 313h3v3h-3zM1154 308h3v8h-3zM1156 319h3v8h-3z" fill="#6b1a10"/>
<path d="M1054 283h1v11h-1zM1068 297h1v8h-1zM1075 292h1v5h-1zM1091 310h1v6h-1zM1102 335h1v1h-1zM1115 338h1v5h-1zM1118 333h1v2h-1zM1126 324h1v2h-1zM1128 317h1v3h-1zM1133 311h1v4h-1zM1141 325h1v4h-1zM1144 320h1v2h-1zM1152 309h1v6h-1z" fill="#5adf3c"/>
<path d="M1057 283h1v7h-1zM1062 291h1v4h-1zM1065 302h1v2h-1zM1070 293h1v6h-1zM1078 293h1v5h-1zM1081 300h1v21h-1zM1083 321h1v1h-1zM1086 321h1v1h-1zM1094 313h1v10h-1zM1097 329h1v6h-1zM1107 329h1v14h-1zM1110 345h1v5h-1zM1123 328h1v1h-1zM1136 311h1v5h-1zM1139 318h1v11h-1zM1149 314h1v1h-1zM1155 309h1v6h-1zM1157 320h1v6h-1z" fill="#e8301f"/>
<path d="M1160.5 328V340M1162.5 338V344M1165.5 329V334M1168.5 325V332M1170.5 321V328M1173.5 318V328M1176.5 329V338M1178.5 336V337M1181.5 335V337M1184.5 341V356M1186.5 345V359M1189.5 339V346M1191.5 333V339M1194.5 331V344M1197.5 328V345M1199.5 328V336M1202.5 329V331M1205.5 319V330M1207.5 313V318M1210.5 317V323M1213.5 325V332M1215.5 330V337M1218.5 334V340M1220.5 325V334M1223.5 324V331M1226.5 331V335M1228.5 327V336M1231.5 329V332M1234.5 325V333M1236.5 328V332M1239.5 327V340M1242.5 340V350M1244.5 345V351M1247.5 340V345M1249.5 331V339M1252.5 328V330M1255.5 328V329M1257.5 328V331M1260.5 321V331M1263.5 327V340" stroke="#7d7d7d" stroke-width="1" fill="none"/>
<path d="M1161 339h3v2h-3zM1164 332h3v1h-3zM1167 325h3v6h-3zM1169 322h3v4h-3zM1177 336h3v1h-3zM1180 336h3v1h-3zM1185 347h3v11h-3zM1188 339h3v5h-3zM1190 334h3v4h-3zM1196 330h3v14h-3zM1198 329h3v1h-3zM1201 329h3v1h-3zM1204 319h3v10h-3zM1206 316h3v1h-3zM1217 335h3v1h-3zM1219 325h3v8h-3zM1227 333h3v1h-3zM1230 331h3v1h-3zM1233 327h3v5h-3zM1243 346h3v5h-3zM1246 341h3v4h-3zM1248 331h3v8h-3zM1251 328h3v1h-3zM1254 328h3v1h-3zM1259 325h3v5h-3z" fill="#2a5a30"/>
<path d="M1159 328h3v12h-3zM1172 322h3v5h-3zM1175 330h3v6h-3zM1183 341h3v13h-3zM1193 333h3v9h-3zM1209 318h3v4h-3zM1212 325h3v7h-3zM1214 332h3v4h-3zM1222 325h3v6h-3zM1225 332h3v2h-3zM1235 329h3v1h-3zM1238 329h3v11h-3zM1241 341h3v9h-3zM1256 329h3v2h-3zM1262 327h3v11h-3z" fill="#6b1a10"/>
<path d="M1168 326h1v4h-1zM1170 323h1v2h-1zM1186 348h1v9h-1zM1189 340h1v3h-1zM1191 335h1v2h-1zM1197 331h1v12h-1zM1205 320h1v8h-1zM1220 326h1v6h-1zM1234 328h1v3h-1zM1244 347h1v3h-1zM1247 342h1v2h-1zM1249 332h1v6h-1zM1260 326h1v3h-1z" fill="#5adf3c"/>
<path d="M1160 329h1v10h-1zM1173 323h1v3h-1zM1176 331h1v4h-1zM1184 342h1v11h-1zM1194 334h1v7h-1zM1210 319h1v2h-1zM1213 326h1v5h-1zM1215 333h1v2h-1zM1223 326h1v4h-1zM1239 330h1v9h-1zM1242 342h1v7h-1zM1263 328h1v9h-1z" fill="#e8301f"/>
<path d="M1265.5 334V343M1268.5 336V339M1271.5 335V337M1273.5 335V339M1276.5 338V339M1278.5 339V343M1281.5 338V342M1284.5 335V343M1286.5 336V342M1289.5 336V341M1292.5 326V337M1294.5 334V339M1297.5 338V344M1300.5 335V339M1302.5 337V342M1305.5 338V341M1307.5 340V343M1310.5 334V340M1313.5 327V339M1315.5 337V339M1318.5 341V346M1321.5 346V351M1323.5 344V350M1326.5 350V358M1329.5 354V358M1331.5 355V358M1334.5 356V359M1336.5 359V374M1339.5 367V372M1342.5 368V374M1344.5 376V383M1347.5 376V381M1350.5 375V381M1352.5 370V376M1355.5 366V375M1358.5 371V378M1360.5 369V371M1363.5 368V374M1365.5 366V372M1368.5 369V379" stroke="#7d7d7d" stroke-width="1" fill="none"/>
<path d="M1267 336h3v3h-3zM1270 336h3v1h-3zM1275 338h3v1h-3zM1280 339h3v3h-3zM1288 336h3v5h-3zM1291 329h3v7h-3zM1296 339h3v4h-3zM1304 339h3v1h-3zM1306 340h3v1h-3zM1309 335h3v5h-3zM1314 338h3v1h-3zM1320 347h3v2h-3zM1328 356h3v1h-3zM1330 356h3v1h-3zM1333 357h3v1h-3zM1338 368h3v1h-3zM1343 378h3v3h-3zM1349 376h3v3h-3zM1351 371h3v5h-3zM1354 370h3v5h-3zM1357 372h3v4h-3zM1362 368h3v5h-3zM1364 369h3v2h-3z" fill="#2a5a30"/>
<path d="M1264 334h3v8h-3zM1272 336h3v3h-3zM1277 339h3v3h-3zM1283 336h3v6h-3zM1285 338h3v3h-3zM1293 335h3v3h-3zM1299 336h3v3h-3zM1301 337h3v3h-3zM1312 333h3v5h-3zM1317 342h3v4h-3zM1322 345h3v5h-3zM1325 351h3v5h-3zM1335 360h3v8h-3zM1341 368h3v5h-3zM1346 378h3v3h-3zM1359 369h3v2h-3zM1367 370h3v9h-3z" fill="#6b1a10"/>
<path d="M1268 337h1v1h-1zM1281 340h1v1h-1zM1289 337h1v3h-1zM1292 330h1v5h-1zM1297 340h1v2h-1zM1310 336h1v3h-1zM1344 379h1v1h-1zM1350 377h1v1h-1zM1352 372h1v3h-1zM1355 371h1v3h-1zM1358 373h1v2h-1zM1363 369h1v3h-1z" fill="#5adf3c"/>
<path d="M1265 335h1v6h-1zM1273 337h1v1h-1zM1278 340h1v1h-1zM1284 337h1v4h-1zM1286 339h1v1h-1zM1294 336h1v1h-1zM1300 337h1v1h-1zM1302 338h1v1h-1zM1313 334h1v3h-1zM1318 343h1v2h-1zM1323 346h1v3h-1zM1326 352h1v3h-1zM1336 361h1v6h-1zM1342 369h1v3h-1zM1347 379h1v1h-1zM1368 371h1v7h-1z" fill="#e8301f"/>
<path d="M1371.5 375V383M1373.5 375V378M1376.5 374V380M1379.5 370V375M1381.5 368V374M1384.5 370V372M1387.5 357V372M1389.5 353V359M1392.5 352V354M1394.5 352V362M1397.5 351V361M1400.5 344V355M1402.5 350V352M1405.5 350V354M1408.5 344V352M1410.5 348V363M1413.5 359V363M1416.5 357V361M1418.5 356V358M1421.5 354V364M1423.5 361V364M1426.5 360V367M1429.5 365V368M1431.5 363V365M1434.5 365V368M1437.5 367V371M1439.5 366V375M1442.5 373V377M1445.5 372V376M1447.5 363V371M1450.5 368V371M1452.5 358V368M1455.5 358V361M1458.5 360V365M1460.5 361V363M1463.5 338V361M1466.5 338V344M1468.5 340V347M1471.5 334V343M1474.5 331V340" stroke="#7d7d7d" stroke-width="1" fill="none"/>
<path d="M1370 375h3v6h-3zM1378 372h3v2h-3zM1380 371h3v3h-3zM1383 370h3v1h-3zM1386 358h3v13h-3zM1388 353h3v6h-3zM1396 353h3v7h-3zM1399 349h3v5h-3zM1401 351h3v1h-3zM1404 351h3v2h-3zM1407 349h3v3h-3zM1412 359h3v4h-3zM1415 358h3v1h-3zM1417 357h3v1h-3zM1422 362h3v1h-3zM1428 365h3v2h-3zM1430 364h3v1h-3zM1436 368h3v1h-3zM1441 373h3v2h-3zM1444 372h3v4h-3zM1446 365h3v5h-3zM1449 368h3v1h-3zM1451 359h3v8h-3zM1454 358h3v1h-3zM1459 362h3v1h-3zM1462 345h3v16h-3zM1465 342h3v1h-3zM1470 334h3v7h-3zM1473 332h3v2h-3z" fill="#2a5a30"/>
<path d="M1372 375h3v2h-3zM1375 376h3v3h-3zM1391 352h3v2h-3zM1393 354h3v6h-3zM1409 349h3v14h-3zM1420 356h3v7h-3zM1425 361h3v4h-3zM1433 365h3v2h-3zM1438 368h3v7h-3zM1457 362h3v3h-3zM1467 342h3v3h-3z" fill="#6b1a10"/>
<path d="M1371 376h1v4h-1zM1381 372h1v1h-1zM1387 359h1v11h-1zM1389 354h1v4h-1zM1397 354h1v5h-1zM1400 350h1v3h-1zM1408 350h1v1h-1zM1413 360h1v2h-1zM1445 373h1v2h-1zM1447 366h1v3h-1zM1452 360h1v6h-1zM1463 346h1v14h-1zM1471 335h1v5h-1z" fill="#5adf3c"/>
<path d="M1376 377h1v1h-1zM1394 355h1v4h-1zM1410 350h1v12h-1zM1421 357h1v5h-1zM1426 362h1v2h-1zM1439 369h1v5h-1zM1458 363h1v1h-1zM1468 343h1v1h-1z" fill="#e8301f"/>
<path d="M1476.5 326V333M1479.5 310V324" stroke="#7d7d7d" stroke-width="1" fill="none"/>
<path d="M1475 326h3v7h-3zM1478 313h3v11h-3z" fill="#2a5a30"/>
<path d="M1476 327h1v5h-1zM1479 314h1v9h-1z" fill="#5adf3c"/></g>
</g>
<circle cx="1466.8" cy="320.8" r="7.8" fill="#3d8ff0"/>
<circle cx="1469.8" cy="320.8" r="7.8" fill="#3d8ff0" stroke="#5fa3f3" stroke-width="0.5"/>
<text x="1470.1" y="324.4" font-family="Liberation Sans, sans-serif" font-size="10.8" font-weight="bold" fill="#fff" text-anchor="middle">P</text>
<g stroke="#858585" stroke-width="1" shape-rendering="crispEdges">
<line x1="1547.5" y1="0" x2="1547.5" y2="515"/>
<line x1="1547.5" y1="558" x2="1547.5" y2="715"/>
<line x1="0" y1="729.5" x2="1548" y2="729.5"/>
<line x1="1548" y1="8.5" x2="1551" y2="8.5"/>
<line x1="1548" y1="47.5" x2="1551" y2="47.5"/>
<line x1="1548" y1="92.5" x2="1551" y2="92.5"/>
<line x1="1548" y1="133.5" x2="1551" y2="133.5"/>
<line x1="1548" y1="164.5" x2="1551" y2="164.5"/>
<line x1="1548" y1="201.5" x2="1551" y2="201.5"/>
<line x1="1548" y1="243.5" x2="1551" y2="243.5"/>
<line x1="1548" y1="280.5" x2="1551" y2="280.5"/>
<line x1="1548" y1="324.5" x2="1551" y2="324.5"/>
<line x1="1548" y1="356.5" x2="1551" y2="356.5"/>
<line x1="1548" y1="395.5" x2="1551" y2="395.5"/>
<line x1="1548" y1="428.5" x2="1551" y2="428.5"/>
<line x1="1548" y1="457.5" x2="1551" y2="457.5"/>
<line x1="1548" y1="491.5" x2="1551" y2="491.5"/>
<line x1="1548" y1="582.5" x2="1551" y2="582.5"/>
<line x1="1548" y1="614.5" x2="1551" y2="614.5"/>
<line x1="1548" y1="645.5" x2="1551" y2="645.5"/>
<line x1="1548" y1="675.5" x2="1551" y2="675.5"/>
<line x1="1548" y1="706.5" x2="1551" y2="706.5"/>
<line x1="17.5" y1="730" x2="17.5" y2="733"/>
<line x1="154.5" y1="730" x2="154.5" y2="733"/>
<line x1="291.5" y1="730" x2="291.5" y2="733"/>
<line x1="428.5" y1="730" x2="428.5" y2="733"/>
<line x1="568.5" y1="730" x2="568.5" y2="733"/>
<line x1="705.5" y1="730" x2="705.5" y2="733"/>
<line x1="842.5" y1="730" x2="842.5" y2="733"/>
<line x1="979.5" y1="730" x2="979.5" y2="733"/>
<line x1="1116.5" y1="730" x2="1116.5" y2="733"/>
<line x1="1253.5" y1="730" x2="1253.5" y2="733"/>
<line x1="1392.5" y1="730" x2="1392.5" y2="733"/>
<line x1="1529.5" y1="730" x2="1529.5" y2="733"/>
</g>
<rect x="0" y="556" width="1600" height="2" fill="#4a4a4a"/>
<g font-family="Liberation Sans, sans-serif" font-size="11.5" fill="#4c4c4c" stroke="#4c4c4c" stroke-width="0.15">
<text x="1554.7" y="13.0">56.0000</text>
<text x="1554.7" y="51.7">48.0000</text>
<text x="1554.7" y="96.3">40.5000</text>
<text x="1554.7" y="137.7">34.5000</text>
<text x="1554.7" y="168.7">30.5000</text>
<text x="1554.7" y="206.0">26.5000</text>
<text x="1554.7" y="247.7">22.5000</text>
<text x="1554.7" y="284.7">19.5000</text>
<text x="1554.7" y="328.3">16.5000</text>
<text x="1554.7" y="361.1">14.5000</text>
<text x="1554.7" y="399.7">12.5000</text>
<text x="1554.7" y="432.6">11.0000</text>
<text x="1554.7" y="461.5">9.8000</text>
<text x="1554.7" y="495.7">8.6000</text>
<text x="1554.7" y="587.0">1B</text>
<text x="1554.7" y="618.8">750M</text>
<text x="1554.7" y="649.5">500M</text>
<text x="1554.7" y="679.9">250M</text>
<text x="1554.7" y="710.6">0</text>
</g>
<g font-family="Liberation Sans, sans-serif" font-size="11.6" font-weight="bold" fill="#4d4d4d" text-anchor="middle">
<text x="16.9" y="744.8">2009</text>
<text x="153.9" y="744.8">2010</text>
<text x="290.9" y="744.8">2011</text>
<text x="427.9" y="744.8">2012</text>
<text x="567.9" y="744.8">2013</text>
<text x="704.9" y="744.8">2014</text>
<text x="841.9" y="744.8">2015</text>
<text x="978.9" y="744.8">2016</text>
<text x="1115.9" y="744.8">2017</text>
<text x="1252.9" y="744.8">2018</text>
<text x="1392.2" y="744.8">2019</text>
<text x="1529.2" y="744.8">2020</text>
</g>
<rect x="1548" y="305" width="52" height="17" fill="#5bd046"/>
<line x1="1548" y1="313.5" x2="1552" y2="313.5" stroke="#ffffff" stroke-opacity="0.7" stroke-width="1" shape-rendering="crispEdges"/>
<text x="1554.7" y="317.8" font-family="Liberation Sans, sans-serif" font-size="11.5" fill="#ffffff" stroke="#ffffff" stroke-width="0.3">17.1500</text>
<rect x="1548" y="678" width="52" height="17" fill="#58b947"/>
<line x1="1548" y1="685.5" x2="1552" y2="685.5" stroke="#ffffff" stroke-opacity="0.7" stroke-width="1" shape-rendering="crispEdges"/>
<text x="1554.7" y="690.4" font-family="Liberation Sans, sans-serif" font-size="11.5" fill="#ffffff" stroke="#ffffff" stroke-width="0.3">173.59M</text>
<rect x="1548" y="694.5" width="52" height="16" fill="#000000"/>
<line x1="1548" y1="702.5" x2="1552" y2="702.5" stroke="#ffffff" stroke-opacity="0.7" stroke-width="1" shape-rendering="crispEdges"/>
<text x="1554.7" y="706.8" font-family="Liberation Sans, sans-serif" font-size="11.5" fill="#ffffff" stroke="#ffffff" stroke-width="0.3">70.797M</text>
<rect x="3.5" y="6.5" width="13" height="13" rx="2" ry="2" fill="#ffffff" stroke="#8c8c8c" stroke-width="1"/>
<line x1="5.5" y1="13.5" x2="14.5" y2="13.5" stroke="#9a9a9a" stroke-width="1"/>
<text y="19.8" font-family="Liberation Sans, sans-serif" font-size="18" fill="#4f4f4f" stroke="#4f4f4f" stroke-width="0.3"><tspan x="23.2" textLength="57.6" lengthAdjust="spacingAndGlyphs">iShares</tspan> <tspan x="85" textLength="50.6" lengthAdjust="spacingAndGlyphs">Silver,</tspan> <tspan x="141.4" textLength="54.4" lengthAdjust="spacingAndGlyphs">United</tspan> <tspan x="200.6" textLength="55" lengthAdjust="spacingAndGlyphs">States,</tspan> <tspan x="262.3" textLength="21" lengthAdjust="spacingAndGlyphs">W,</tspan> <tspan x="288.2" textLength="41.4" lengthAdjust="spacingAndGlyphs">NYSE</tspan></text>
<path d="M333.5 12 L341 12 L337.25 16 Z" fill="#c4c4c4"/>
<rect x="352" y="6.8" width="15" height="14" fill="#d9d9d9"/><ellipse cx="359.5" cy="13.8" rx="4.6" ry="3.6" fill="none" stroke="#fff" stroke-width="1.3"/><circle cx="359.5" cy="13.8" r="1.5" fill="#fff"/>
<rect x="370" y="6.8" width="15" height="14" fill="#d9d9d9"/><circle cx="377.5" cy="13.8" r="3" fill="none" stroke="#fff" stroke-width="1.8"/><line x1="380.90" y1="13.80" x2="382.70" y2="13.80" stroke="#fff" stroke-width="1.6"/><line x1="379.90" y1="16.20" x2="381.18" y2="17.48" stroke="#fff" stroke-width="1.6"/><line x1="377.50" y1="17.20" x2="377.50" y2="19.00" stroke="#fff" stroke-width="1.6"/><line x1="375.10" y1="16.20" x2="373.82" y2="17.48" stroke="#fff" stroke-width="1.6"/><line x1="374.10" y1="13.80" x2="372.30" y2="13.80" stroke="#fff" stroke-width="1.6"/><line x1="375.10" y1="11.40" x2="373.82" y2="10.12" stroke="#fff" stroke-width="1.6"/><line x1="377.50" y1="10.40" x2="377.50" y2="8.60" stroke="#fff" stroke-width="1.6"/><line x1="379.90" y1="11.40" x2="381.18" y2="10.12" stroke="#fff" stroke-width="1.6"/>
<text x="393.4" y="20" font-family="Liberation Sans, sans-serif" font-size="15.8" fill="#555555" stroke="#555555" stroke-width="0.3" textLength="10.8" lengthAdjust="spacingAndGlyphs">O</text>
<text x="406.6" y="20" font-family="Liberation Sans, sans-serif" font-size="15.8" fill="#2a5233" stroke="#2a5233" stroke-width="0.3" textLength="53.6" lengthAdjust="spacingAndGlyphs">16.5000</text>
<text x="470.6" y="20" font-family="Liberation Sans, sans-serif" font-size="15.8" fill="#555555" stroke="#555555" stroke-width="0.3" textLength="10.4" lengthAdjust="spacingAndGlyphs">H</text>
<text x="483.4" y="20" font-family="Liberation Sans, sans-serif" font-size="15.8" fill="#2a5233" stroke="#2a5233" stroke-width="0.3" textLength="53.6" lengthAdjust="spacingAndGlyphs">17.4100</text>
<text x="548.2" y="20" font-family="Liberation Sans, sans-serif" font-size="15.8" fill="#555555" stroke="#555555" stroke-width="0.3" textLength="7.4" lengthAdjust="spacingAndGlyphs">L</text>
<text x="558.4" y="20" font-family="Liberation Sans, sans-serif" font-size="15.8" fill="#2a5233" stroke="#2a5233" stroke-width="0.3" textLength="53.6" lengthAdjust="spacingAndGlyphs">16.4499</text>
<text x="622.4" y="20" font-family="Liberation Sans, sans-serif" font-size="15.8" fill="#555555" stroke="#555555" stroke-width="0.3" textLength="9.6" lengthAdjust="spacingAndGlyphs">C</text>
<text x="634.6" y="20" font-family="Liberation Sans, sans-serif" font-size="15.8" fill="#2a5233" stroke="#2a5233" stroke-width="0.3" textLength="53.6" lengthAdjust="spacingAndGlyphs">17.1500</text>
<circle cx="1453.3" cy="12.4" r="3" fill="#929292"/>
<text x="1461" y="17" font-family="Liberation Sans, sans-serif" font-size="13.5" fill="#929292" stroke="#929292" stroke-width="0.25" textLength="79.5" lengthAdjust="spacing">Market Closed</text>
<text x="3.4" y="578.3" font-family="Liberation Sans, sans-serif" font-size="13.2" fill="#4f4f4f" stroke="#4f4f4f" stroke-width="0.25" textLength="68" lengthAdjust="spacing">Volume (20)</text>
<path d="M76 572 L83.5 572 L79.75 576 Z" fill="#c4c4c4"/>
<rect x="95" y="567" width="15" height="14" fill="#d9d9d9"/><ellipse cx="102.5" cy="574" rx="4.6" ry="3.6" fill="none" stroke="#fff" stroke-width="1.3"/><circle cx="102.5" cy="574" r="1.5" fill="#fff"/>
<rect x="113" y="567" width="15" height="14" fill="#d9d9d9"/><circle cx="120.5" cy="574" r="3" fill="none" stroke="#fff" stroke-width="1.8"/><line x1="123.90" y1="574.00" x2="125.70" y2="574.00" stroke="#fff" stroke-width="1.6"/><line x1="122.90" y1="576.40" x2="124.18" y2="577.68" stroke="#fff" stroke-width="1.6"/><line x1="120.50" y1="577.40" x2="120.50" y2="579.20" stroke="#fff" stroke-width="1.6"/><line x1="118.10" y1="576.40" x2="116.82" y2="577.68" stroke="#fff" stroke-width="1.6"/><line x1="117.10" y1="574.00" x2="115.30" y2="574.00" stroke="#fff" stroke-width="1.6"/><line x1="118.10" y1="571.60" x2="116.82" y2="570.32" stroke="#fff" stroke-width="1.6"/><line x1="120.50" y1="570.60" x2="120.50" y2="568.80" stroke="#fff" stroke-width="1.6"/><line x1="122.90" y1="571.60" x2="124.18" y2="570.32" stroke="#fff" stroke-width="1.6"/>
<rect x="131" y="567" width="15" height="14" fill="#d9d9d9"/><path d="M134.5 570 L142.5 578 M142.5 570 L134.5 578" stroke="#fff" stroke-width="1.4" fill="none"/>
<text x="154.3" y="578.3" font-family="Liberation Sans, sans-serif" font-size="13.2" fill="#4caf3c" stroke="#4caf3c" stroke-width="0.25" textLength="47" lengthAdjust="spacing">173.59M</text>
<text x="211.6" y="578.3" font-family="Liberation Sans, sans-serif" font-size="13.2" fill="#222222" stroke="#222222" stroke-width="0.25" textLength="46.6" lengthAdjust="spacing">70.797M</text>
<text x="11.6" y="498.2" font-family="Liberation Sans, sans-serif" font-size="23.6" font-weight="bold" fill="#0a0a0a" stroke="#0a0a0a" stroke-width="0.5" textLength="94.4" lengthAdjust="spacingAndGlyphs">Investing</text>
<path d="M74.6 481.6 L78.8 480.2 L79.2 483.2 L75.2 484.2 Z" fill="#f5a623"/>
<text x="107" y="498.2" font-family="Liberation Sans, sans-serif" font-size="16.5" fill="#3a3a3a" textLength="31.4" lengthAdjust="spacing">.com</text>
</svg>
</body></html>
